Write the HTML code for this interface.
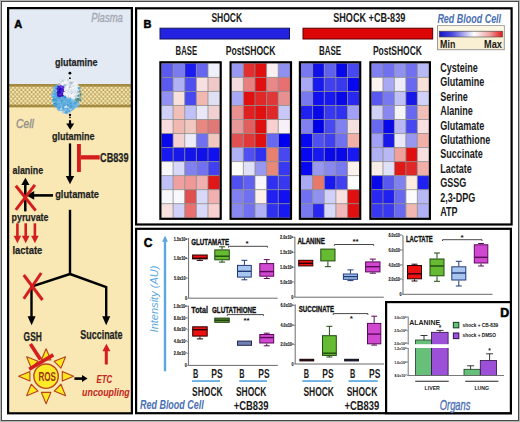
<!DOCTYPE html>
<html><head><meta charset="utf-8"><style>
html,body{margin:0;padding:0;background:#fff;}
svg{display:block;font-family:"Liberation Sans", sans-serif;}
</style></head><body>
<svg width="520" height="422" viewBox="0 0 520 422">
<rect x="0" y="0" width="520" height="422" fill="#ffffff"/>
<rect x="0.5" y="0.5" width="519" height="421" fill="none" stroke="#b4b4b4" stroke-width="1"/>
<rect x="1.5" y="1.5" width="517" height="419" fill="none" stroke="#4a4a4a" stroke-width="1"/>
<rect x="8" y="8" width="124" height="78" fill="#e3eaf4"/>
<rect x="8" y="84" width="124" height="330" fill="#f9e8b4"/>
<defs><pattern id="mem" x="8" y="86.6" width="4.1" height="4.4" patternUnits="userSpaceOnUse"><rect width="4.1" height="4.4" fill="#bba261"/><ellipse cx="1.025" cy="1.1" rx="1.35" ry="1.05" fill="#f8e9b0"/><ellipse cx="3.075" cy="3.3" rx="1.35" ry="1.05" fill="#f8e9b0"/><ellipse cx="-1.025" cy="3.3" rx="1.35" ry="1.05" fill="#f8e9b0"/><ellipse cx="5.125" cy="1.1" rx="1.35" ry="1.05" fill="#f8e9b0"/><ellipse cx="3.075" cy="-1.1" rx="1.35" ry="1.05" fill="#f8e9b0"/><ellipse cx="1.025" cy="5.5" rx="1.35" ry="1.05" fill="#f8e9b0"/></pattern></defs>
<rect x="8" y="84.0" width="124" height="23.3" fill="url(#mem)"/>
<rect x="8" y="84.0" width="124" height="2.6" fill="#9a8034" opacity="0.85"/>
<rect x="8" y="104.7" width="124" height="2.6" fill="#9a8034" opacity="0.85"/>
<rect x="8.1" y="8.1" width="123.8" height="405.2" fill="none" stroke="#000" stroke-width="2.2"/>
<text x="14.2" y="27.7" font-size="11" fill="#000" stroke="#000" stroke-width="0.5" font-weight="bold">A</text>
<text x="91.2" y="21.8" font-size="12.8" fill="#a4a9b1" stroke="#a4a9b1" stroke-width="0.35" font-style="italic" textLength="31.6" lengthAdjust="spacingAndGlyphs">Plasma</text>
<text x="16.1" y="127.7" font-size="12.8" fill="#96938a" stroke="#96938a" stroke-width="0.45" font-style="italic" textLength="17.7" lengthAdjust="spacingAndGlyphs">Cell</text>
<g>
<ellipse cx="66.5" cy="96" rx="13.2" ry="16.2" fill="#6ab4e2"/>
<path d="M60 82 Q70 76 78 84 Q82 92 79 100 Q74 96 68 99 Q63 94 64 88 Z" fill="#e2eaf2"/>
<circle cx="61.7" cy="83.9" r="0.93" fill="#b0bcc8"/><circle cx="69.0" cy="109.7" r="0.92" fill="#5aaee0"/><circle cx="64.8" cy="81.2" r="1.23" fill="#ffffff"/><circle cx="54.2" cy="98.0" r="1.28" fill="#5ab0e4"/><circle cx="69.0" cy="80.9" r="1.14" fill="#eef2f6"/><circle cx="76.8" cy="88.6" r="1.22" fill="#f0f4f8"/><circle cx="68.7" cy="97.8" r="1.01" fill="#b0bcc8"/><circle cx="69.0" cy="100.5" r="0.96" fill="#3a90c8"/><circle cx="72.7" cy="98.0" r="1.02" fill="#eef2f6"/><circle cx="71.8" cy="93.3" r="1.18" fill="#dde4ec"/><circle cx="78.6" cy="91.1" r="1.38" fill="#6aa0a0"/><circle cx="72.3" cy="87.1" r="1.08" fill="#eef2f6"/><circle cx="66.5" cy="90.5" r="1.07" fill="#c8d2dc"/><circle cx="64.3" cy="104.5" r="1.46" fill="#5ab0e4"/><circle cx="64.4" cy="111.5" r="1.36" fill="#7ab8e0"/><circle cx="68.7" cy="108.6" r="1.10" fill="#a8cce6"/><circle cx="62.4" cy="95.7" r="0.94" fill="#5a2ae0"/><circle cx="55.1" cy="88.0" r="1.30" fill="#4a9ccf"/><circle cx="54.2" cy="102.7" r="1.25" fill="#4a9ccf"/><circle cx="71.8" cy="94.0" r="1.13" fill="#b0bcc8"/><circle cx="65.6" cy="84.5" r="1.20" fill="#ffffff"/><circle cx="58.7" cy="88.6" r="1.14" fill="#4a18d0"/><circle cx="78.4" cy="95.7" r="1.17" fill="#6aa0a0"/><circle cx="68.0" cy="108.8" r="1.42" fill="#d8e6f0"/><circle cx="60.4" cy="92.9" r="1.31" fill="#2c0cb0"/><circle cx="63.3" cy="86.6" r="1.01" fill="#3a10c8"/><circle cx="59.1" cy="86.7" r="1.40" fill="#5a2ae0"/><circle cx="57.7" cy="88.4" r="1.15" fill="#4a18d0"/><circle cx="62.9" cy="98.1" r="1.31" fill="#5ab0e4"/><circle cx="67.1" cy="99.8" r="1.34" fill="#4a9ccf"/><circle cx="65.4" cy="108.4" r="1.14" fill="#4aa0d8"/><circle cx="63.8" cy="82.3" r="1.14" fill="#b0bcc8"/><circle cx="65.0" cy="82.5" r="0.93" fill="#eef2f6"/><circle cx="55.4" cy="91.2" r="0.94" fill="#4aa0d8"/><circle cx="58.4" cy="91.6" r="1.47" fill="#2c0cb0"/><circle cx="69.5" cy="94.9" r="1.41" fill="#ffffff"/><circle cx="80.6" cy="94.6" r="1.09" fill="#4a8078"/><circle cx="56.6" cy="104.3" r="1.06" fill="#4a9ccf"/><circle cx="76.0" cy="84.3" r="1.02" fill="#ffffff"/><circle cx="79.4" cy="91.1" r="1.35" fill="#5a9088"/><circle cx="60.9" cy="100.7" r="1.32" fill="#4aa0d8"/><circle cx="59.9" cy="91.3" r="1.11" fill="#4a18d0"/><circle cx="58.8" cy="97.2" r="1.10" fill="#62aadc"/><circle cx="58.8" cy="106.4" r="1.38" fill="#5aaee0"/><circle cx="75.7" cy="104.0" r="1.02" fill="#5ab0e4"/><circle cx="66.4" cy="103.7" r="1.37" fill="#4aa0d8"/><circle cx="65.9" cy="85.4" r="1.47" fill="#eef2f6"/><circle cx="65.2" cy="110.7" r="1.47" fill="#a8cce6"/><circle cx="62.8" cy="86.3" r="1.18" fill="#4a18d0"/><circle cx="62.1" cy="95.2" r="1.19" fill="#3a10c8"/><circle cx="71.0" cy="106.0" r="1.40" fill="#4aa0d8"/><circle cx="55.9" cy="92.0" r="1.35" fill="#4a9ccf"/><circle cx="66.0" cy="84.9" r="1.10" fill="#b0bcc8"/><circle cx="63.7" cy="92.4" r="1.33" fill="#3a10c8"/><circle cx="75.3" cy="83.8" r="1.49" fill="#eef2f6"/><circle cx="71.1" cy="90.7" r="1.23" fill="#eef2f6"/><circle cx="73.1" cy="82.3" r="1.46" fill="#b0bcc8"/><circle cx="64.8" cy="108.4" r="0.92" fill="#5aaee0"/><circle cx="58.5" cy="95.8" r="1.06" fill="#2c0cb0"/><circle cx="64.4" cy="83.3" r="1.11" fill="#b0bcc8"/><circle cx="65.5" cy="98.6" r="1.15" fill="#62aadc"/><circle cx="78.5" cy="95.9" r="1.21" fill="#6aa0a0"/><circle cx="53.0" cy="93.8" r="1.27" fill="#5ab0e4"/><circle cx="74.5" cy="83.9" r="1.18" fill="#f0f4f8"/><circle cx="73.0" cy="97.7" r="1.31" fill="#dde4ec"/><circle cx="67.5" cy="95.2" r="1.43" fill="#ffffff"/><circle cx="65.3" cy="79.7" r="1.17" fill="#ffffff"/><circle cx="69.8" cy="96.0" r="1.02" fill="#eef2f6"/><circle cx="60.3" cy="96.1" r="1.20" fill="#5a2ae0"/><circle cx="59.5" cy="96.6" r="1.45" fill="#3a90c8"/><circle cx="77.8" cy="85.7" r="0.98" fill="#c8d2dc"/><circle cx="55.9" cy="93.8" r="1.30" fill="#4aa0d8"/><circle cx="64.6" cy="86.0" r="1.37" fill="#dde4ec"/><circle cx="72.8" cy="101.2" r="1.05" fill="#5ab0e4"/><circle cx="56.4" cy="94.7" r="1.47" fill="#4a9ccf"/><circle cx="63.8" cy="95.4" r="1.00" fill="#4a18d0"/><circle cx="64.7" cy="96.3" r="1.15" fill="#3a90c8"/><circle cx="62.6" cy="81.9" r="0.91" fill="#dde4ec"/><circle cx="68.2" cy="93.8" r="1.13" fill="#ffffff"/><circle cx="67.1" cy="88.8" r="0.97" fill="#ffffff"/><circle cx="78.5" cy="86.6" r="0.95" fill="#ffffff"/><circle cx="60.2" cy="109.6" r="1.06" fill="#5aaee0"/><circle cx="56.2" cy="93.2" r="1.39" fill="#4a9ccf"/><circle cx="59.8" cy="83.9" r="1.24" fill="#eef2f6"/><circle cx="72.3" cy="81.8" r="1.38" fill="#ffffff"/><circle cx="55.0" cy="87.7" r="1.41" fill="#62aadc"/><circle cx="65.3" cy="90.3" r="1.15" fill="#eef2f6"/><circle cx="78.4" cy="99.9" r="1.22" fill="#5a9088"/><circle cx="59.2" cy="82.5" r="1.06" fill="#f0f4f8"/><circle cx="70.3" cy="96.9" r="1.07" fill="#f0f4f8"/><circle cx="66.7" cy="84.8" r="1.38" fill="#dde4ec"/><circle cx="53.0" cy="96.0" r="1.21" fill="#5ab0e4"/><circle cx="59.5" cy="94.0" r="1.29" fill="#5a2ae0"/><circle cx="67.9" cy="109.0" r="1.08" fill="#4aa0d8"/><circle cx="58.6" cy="86.6" r="1.40" fill="#4a18d0"/><circle cx="72.5" cy="100.4" r="1.49" fill="#7cc0ea"/><circle cx="52.9" cy="100.1" r="1.16" fill="#3a90c8"/><circle cx="54.1" cy="101.4" r="1.42" fill="#7cc0ea"/><circle cx="71.5" cy="88.4" r="1.32" fill="#f0f4f8"/><circle cx="62.8" cy="90.0" r="1.05" fill="#2c0cb0"/><circle cx="63.3" cy="94.9" r="1.05" fill="#4a18d0"/><circle cx="74.5" cy="81.9" r="0.99" fill="#ffffff"/><circle cx="69.1" cy="92.2" r="1.08" fill="#dde4ec"/><circle cx="59.1" cy="98.7" r="1.41" fill="#62aadc"/><circle cx="74.7" cy="99.1" r="1.33" fill="#88b8c8"/><circle cx="66.5" cy="88.5" r="1.29" fill="#eef2f6"/><circle cx="77.7" cy="100.1" r="1.45" fill="#6aa0a0"/><circle cx="73.8" cy="98.1" r="1.40" fill="#ffffff"/><circle cx="69.0" cy="109.2" r="0.95" fill="#5aaee0"/><circle cx="53.7" cy="100.5" r="1.13" fill="#4aa0d8"/><circle cx="65.3" cy="80.5" r="1.28" fill="#ffffff"/><circle cx="71.8" cy="95.4" r="1.17" fill="#ffffff"/><circle cx="67.4" cy="104.2" r="1.05" fill="#7cc0ea"/><circle cx="54.6" cy="87.8" r="1.35" fill="#4a9ccf"/><circle cx="59.0" cy="100.9" r="1.20" fill="#7cc0ea"/><circle cx="63.3" cy="95.1" r="1.36" fill="#2c0cb0"/><circle cx="70.0" cy="100.7" r="1.26" fill="#4aa0d8"/><circle cx="61.9" cy="101.0" r="1.08" fill="#4a9ccf"/><circle cx="68.6" cy="79.2" r="1.19" fill="#ffffff"/><circle cx="58.7" cy="95.4" r="1.18" fill="#2c0cb0"/><circle cx="65.7" cy="82.8" r="1.02" fill="#eef2f6"/><circle cx="53.0" cy="94.4" r="1.48" fill="#62aadc"/><circle cx="65.2" cy="87.9" r="1.45" fill="#f0f4f8"/><circle cx="55.1" cy="104.2" r="1.47" fill="#3a90c8"/><circle cx="56.3" cy="106.7" r="1.07" fill="#4aa0d8"/><circle cx="55.7" cy="91.2" r="1.44" fill="#7cc0ea"/><circle cx="66.3" cy="79.6" r="1.47" fill="#ffffff"/><circle cx="71.8" cy="92.6" r="0.98" fill="#b0bcc8"/><circle cx="62.2" cy="89.5" r="0.90" fill="#2c0cb0"/><circle cx="73.7" cy="107.3" r="1.46" fill="#7ab8e0"/><circle cx="73.4" cy="87.4" r="1.14" fill="#ffffff"/><circle cx="62.7" cy="93.4" r="1.41" fill="#2c0cb0"/><circle cx="60.4" cy="80.6" r="1.07" fill="#b0bcc8"/><circle cx="60.0" cy="96.2" r="1.36" fill="#4a18d0"/><circle cx="74.7" cy="93.3" r="1.39" fill="#ffffff"/><circle cx="70.4" cy="109.9" r="1.23" fill="#4aa0d8"/><circle cx="73.2" cy="94.1" r="1.29" fill="#f0f4f8"/><circle cx="60.6" cy="80.5" r="0.98" fill="#eef2f6"/><circle cx="65.9" cy="90.5" r="1.05" fill="#dde4ec"/><circle cx="73.4" cy="101.0" r="1.29" fill="#7cc0ea"/><circle cx="61.0" cy="97.7" r="0.97" fill="#7cc0ea"/><circle cx="70.7" cy="81.4" r="1.44" fill="#eef2f6"/><circle cx="66.6" cy="86.3" r="1.50" fill="#dde4ec"/><circle cx="65.2" cy="83.5" r="1.05" fill="#f0f4f8"/><circle cx="57.4" cy="97.7" r="1.04" fill="#3a90c8"/><circle cx="59.8" cy="98.2" r="1.35" fill="#4aa0d8"/><circle cx="64.2" cy="92.9" r="1.03" fill="#eef2f6"/><circle cx="60.1" cy="104.4" r="1.07" fill="#7cc0ea"/><circle cx="66.7" cy="100.2" r="0.96" fill="#5ab0e4"/><circle cx="77.9" cy="91.9" r="1.17" fill="#b0bcc8"/><circle cx="77.8" cy="94.9" r="0.90" fill="#4a8078"/><circle cx="63.6" cy="110.3" r="1.41" fill="#4aa0d8"/><circle cx="67.3" cy="102.0" r="1.32" fill="#4a9ccf"/><circle cx="54.9" cy="105.2" r="1.37" fill="#4aa0d8"/><circle cx="59.1" cy="110.1" r="1.48" fill="#a8cce6"/><circle cx="70.2" cy="96.8" r="1.32" fill="#c8d2dc"/><circle cx="67.3" cy="98.6" r="1.06" fill="#7cc0ea"/><circle cx="67.7" cy="112.7" r="1.48" fill="#a8cce6"/><circle cx="70.7" cy="108.8" r="1.22" fill="#d8e6f0"/><circle cx="68.0" cy="79.8" r="1.32" fill="#c8d2dc"/><circle cx="66.6" cy="101.7" r="0.95" fill="#7cc0ea"/><circle cx="58.9" cy="93.2" r="1.04" fill="#2c0cb0"/><circle cx="53.5" cy="90.3" r="1.12" fill="#7cc0ea"/><circle cx="60.8" cy="107.5" r="1.02" fill="#7ab8e0"/><circle cx="75.7" cy="86.6" r="1.06" fill="#f0f4f8"/><circle cx="70.1" cy="99.5" r="1.19" fill="#5ab0e4"/><circle cx="69.3" cy="110.1" r="1.03" fill="#7ab8e0"/><circle cx="63.6" cy="109.3" r="1.34" fill="#a8cce6"/><circle cx="61.8" cy="85.1" r="1.35" fill="#62aadc"/><circle cx="53.4" cy="101.4" r="1.40" fill="#7cc0ea"/><circle cx="80.4" cy="93.8" r="0.90" fill="#5a9088"/><circle cx="60.4" cy="90.7" r="1.24" fill="#3a10c8"/><circle cx="74.0" cy="91.7" r="1.39" fill="#dde4ec"/><circle cx="64.7" cy="80.5" r="1.02" fill="#c8d2dc"/><circle cx="67.8" cy="94.0" r="1.12" fill="#dde4ec"/><circle cx="64.1" cy="106.4" r="0.92" fill="#d8e6f0"/><circle cx="78.5" cy="87.5" r="0.94" fill="#b0bcc8"/><circle cx="69.6" cy="91.1" r="1.47" fill="#dde4ec"/><circle cx="70.0" cy="87.7" r="1.31" fill="#b0bcc8"/><circle cx="78.7" cy="88.9" r="1.35" fill="#b0bcc8"/><circle cx="78.4" cy="100.4" r="0.91" fill="#5a9088"/><circle cx="59.1" cy="95.0" r="1.47" fill="#5a2ae0"/><circle cx="63.4" cy="87.3" r="1.39" fill="#5a2ae0"/><circle cx="56.3" cy="95.7" r="1.38" fill="#4aa0d8"/><circle cx="73.4" cy="106.8" r="1.26" fill="#5aaee0"/><circle cx="61.8" cy="89.7" r="1.37" fill="#2c0cb0"/><circle cx="69.4" cy="96.2" r="1.35" fill="#c8d2dc"/><circle cx="53.5" cy="97.6" r="1.00" fill="#3a90c8"/><circle cx="64.6" cy="82.4" r="1.06" fill="#ffffff"/><circle cx="66.6" cy="102.9" r="1.00" fill="#7cc0ea"/><circle cx="56.3" cy="94.5" r="1.04" fill="#4a9ccf"/><circle cx="67.7" cy="105.1" r="1.37" fill="#4aa0d8"/><circle cx="60.8" cy="88.3" r="1.12" fill="#2c0cb0"/><circle cx="73.4" cy="85.6" r="1.01" fill="#f0f4f8"/><circle cx="59.2" cy="88.4" r="1.10" fill="#4a18d0"/><circle cx="66.9" cy="86.7" r="1.29" fill="#ffffff"/><circle cx="65.9" cy="106.6" r="1.45" fill="#d8e6f0"/><circle cx="80.0" cy="98.6" r="1.12" fill="#5a9088"/><circle cx="77.0" cy="94.1" r="1.36" fill="#dde4ec"/><circle cx="70.5" cy="102.9" r="1.03" fill="#3a90c8"/><circle cx="62.9" cy="83.6" r="1.50" fill="#f0f4f8"/><circle cx="75.7" cy="92.7" r="1.01" fill="#dde4ec"/><circle cx="61.3" cy="85.7" r="1.23" fill="#5a2ae0"/><circle cx="63.7" cy="97.5" r="1.22" fill="#4a9ccf"/><circle cx="71.0" cy="92.3" r="1.15" fill="#dde4ec"/><circle cx="60.5" cy="89.3" r="1.09" fill="#3a10c8"/><circle cx="68.5" cy="90.9" r="0.91" fill="#c8d2dc"/><circle cx="74.2" cy="106.1" r="1.13" fill="#5aaee0"/><circle cx="64.0" cy="110.8" r="1.44" fill="#d8e6f0"/><circle cx="64.5" cy="106.7" r="1.25" fill="#d8e6f0"/><circle cx="62.8" cy="105.1" r="0.91" fill="#5ab0e4"/><circle cx="68.1" cy="100.6" r="0.95" fill="#7cc0ea"/><circle cx="70.1" cy="91.4" r="1.00" fill="#eef2f6"/><circle cx="62.3" cy="84.3" r="1.46" fill="#f0f4f8"/><circle cx="55.6" cy="95.5" r="1.08" fill="#5ab0e4"/><circle cx="78.3" cy="89.5" r="1.46" fill="#eef2f6"/><circle cx="63.5" cy="109.5" r="1.31" fill="#4aa0d8"/><circle cx="77.7" cy="100.6" r="1.27" fill="#6aa0a0"/><circle cx="69.9" cy="85.5" r="1.01" fill="#c8d2dc"/><circle cx="58.7" cy="92.4" r="1.13" fill="#4a18d0"/><circle cx="56.0" cy="87.2" r="1.39" fill="#4a9ccf"/><circle cx="58.0" cy="108.9" r="1.30" fill="#7ab8e0"/><circle cx="61.7" cy="92.1" r="1.23" fill="#5a2ae0"/><circle cx="70.2" cy="89.2" r="1.08" fill="#c8d2dc"/><circle cx="59.6" cy="92.0" r="1.17" fill="#2c0cb0"/><circle cx="64.9" cy="79.6" r="1.49" fill="#eef2f6"/><circle cx="65.7" cy="94.0" r="1.37" fill="#eef2f6"/><circle cx="65.5" cy="84.9" r="1.14" fill="#c8d2dc"/><circle cx="54.4" cy="91.0" r="0.96" fill="#3a90c8"/><circle cx="65.0" cy="96.1" r="0.92" fill="#4aa0d8"/><circle cx="61.4" cy="103.3" r="0.93" fill="#4aa0d8"/><circle cx="66.8" cy="91.6" r="0.92" fill="#f0f4f8"/><circle cx="54.4" cy="99.7" r="1.39" fill="#4a9ccf"/><circle cx="66.4" cy="111.3" r="1.31" fill="#5aaee0"/><circle cx="72.9" cy="86.3" r="1.27" fill="#dde4ec"/><circle cx="59.6" cy="89.8" r="1.44" fill="#2c0cb0"/><circle cx="65.4" cy="87.4" r="1.02" fill="#c8d2dc"/><circle cx="59.9" cy="96.0" r="1.12" fill="#2c0cb0"/><circle cx="58.1" cy="92.5" r="1.31" fill="#2c0cb0"/><circle cx="74.7" cy="82.7" r="0.93" fill="#eef2f6"/><circle cx="65.3" cy="96.5" r="1.43" fill="#4a9ccf"/><circle cx="70.3" cy="92.2" r="1.06" fill="#dde4ec"/><circle cx="80.5" cy="98.4" r="1.10" fill="#88b8c8"/><circle cx="69.9" cy="111.4" r="1.39" fill="#a8cce6"/><circle cx="59.7" cy="100.5" r="1.46" fill="#62aadc"/><circle cx="77.8" cy="103.7" r="0.92" fill="#4a9ccf"/><circle cx="56.7" cy="99.7" r="1.15" fill="#7cc0ea"/><circle cx="62.8" cy="80.4" r="1.04" fill="#c8d2dc"/><circle cx="55.5" cy="90.9" r="1.15" fill="#5ab0e4"/><circle cx="61.0" cy="83.3" r="1.27" fill="#dde4ec"/><circle cx="65.9" cy="83.4" r="1.32" fill="#f0f4f8"/><circle cx="65.3" cy="81.0" r="1.42" fill="#f0f4f8"/><circle cx="74.6" cy="92.5" r="1.48" fill="#dde4ec"/><circle cx="77.8" cy="99.0" r="1.26" fill="#4a8078"/><circle cx="67.1" cy="95.6" r="1.44" fill="#f0f4f8"/><circle cx="53.7" cy="96.9" r="1.01" fill="#7cc0ea"/><circle cx="55.5" cy="99.6" r="1.46" fill="#4a9ccf"/><circle cx="69.7" cy="96.0" r="1.15" fill="#b0bcc8"/><circle cx="69.9" cy="96.1" r="1.08" fill="#ffffff"/><circle cx="74.7" cy="103.1" r="1.13" fill="#4aa0d8"/><circle cx="64.9" cy="109.8" r="1.35" fill="#7ab8e0"/><circle cx="65.3" cy="86.5" r="1.06" fill="#ffffff"/><circle cx="70.7" cy="83.0" r="1.46" fill="#b0bcc8"/><circle cx="54.0" cy="100.4" r="1.16" fill="#4a9ccf"/><circle cx="74.8" cy="96.6" r="1.08" fill="#dde4ec"/><circle cx="54.9" cy="96.1" r="1.06" fill="#5ab0e4"/><circle cx="59.2" cy="104.1" r="1.35" fill="#5ab0e4"/><circle cx="61.8" cy="108.7" r="1.26" fill="#a8cce6"/><circle cx="63.2" cy="107.8" r="1.18" fill="#4aa0d8"/><circle cx="76.3" cy="102.5" r="1.16" fill="#4aa0d8"/><circle cx="73.0" cy="98.2" r="1.37" fill="#dde4ec"/><circle cx="63.6" cy="98.7" r="1.45" fill="#62aadc"/><circle cx="62.3" cy="83.6" r="0.92" fill="#ffffff"/><circle cx="56.4" cy="100.7" r="1.32" fill="#4aa0d8"/><circle cx="73.4" cy="81.0" r="1.36" fill="#eef2f6"/><circle cx="67.6" cy="101.4" r="1.47" fill="#4a9ccf"/><circle cx="76.5" cy="106.4" r="1.40" fill="#7ab8e0"/><circle cx="70.4" cy="88.6" r="0.98" fill="#ffffff"/><circle cx="74.9" cy="100.8" r="1.09" fill="#88b8c8"/><circle cx="64.5" cy="79.5" r="1.46" fill="#dde4ec"/><circle cx="78.3" cy="105.0" r="1.20" fill="#62aadc"/><circle cx="76.6" cy="99.8" r="1.37" fill="#5a9088"/><circle cx="53.4" cy="96.4" r="1.11" fill="#4aa0d8"/><circle cx="72.4" cy="97.1" r="1.33" fill="#f0f4f8"/><circle cx="75.9" cy="98.3" r="1.00" fill="#88b8c8"/><circle cx="52.6" cy="95.5" r="1.32" fill="#7cc0ea"/><circle cx="69.3" cy="111.3" r="1.06" fill="#4aa0d8"/><circle cx="79.2" cy="88.4" r="1.46" fill="#5ab0e4"/><circle cx="59.1" cy="84.4" r="1.36" fill="#b0bcc8"/><circle cx="66.4" cy="112.5" r="1.37" fill="#4aa0d8"/><circle cx="70.3" cy="90.9" r="1.46" fill="#c8d2dc"/><circle cx="77.7" cy="104.1" r="1.43" fill="#7cc0ea"/><circle cx="59.9" cy="109.4" r="1.00" fill="#4aa0d8"/><circle cx="80.3" cy="100.2" r="0.98" fill="#4a8078"/><circle cx="69.3" cy="102.2" r="1.29" fill="#62aadc"/><circle cx="62.4" cy="89.9" r="1.42" fill="#4a18d0"/><circle cx="65.2" cy="97.6" r="1.00" fill="#3a90c8"/><circle cx="64.9" cy="105.1" r="1.04" fill="#62aadc"/><circle cx="62.0" cy="100.7" r="1.04" fill="#4a9ccf"/><circle cx="57.9" cy="89.1" r="1.33" fill="#4a18d0"/><circle cx="69.6" cy="90.7" r="1.10" fill="#f0f4f8"/><circle cx="73.1" cy="82.3" r="0.96" fill="#b0bcc8"/><circle cx="63.4" cy="112.3" r="1.34" fill="#a8cce6"/><circle cx="64.8" cy="85.5" r="1.45" fill="#b0bcc8"/><circle cx="60.4" cy="108.9" r="0.92" fill="#d8e6f0"/><circle cx="63.8" cy="105.7" r="1.03" fill="#4a9ccf"/><circle cx="59.4" cy="107.8" r="1.25" fill="#4aa0d8"/><circle cx="70.8" cy="107.6" r="1.41" fill="#4aa0d8"/><circle cx="71.7" cy="100.6" r="1.16" fill="#7cc0ea"/><circle cx="59.9" cy="102.6" r="1.05" fill="#7cc0ea"/><circle cx="63.8" cy="103.0" r="1.05" fill="#5ab0e4"/><circle cx="64.5" cy="94.3" r="1.42" fill="#eef2f6"/><circle cx="67.2" cy="101.3" r="1.44" fill="#5ab0e4"/><circle cx="55.5" cy="87.3" r="1.00" fill="#5ab0e4"/><circle cx="67.2" cy="82.2" r="1.17" fill="#eef2f6"/><circle cx="58.3" cy="95.0" r="1.28" fill="#3a10c8"/><circle cx="76.0" cy="96.5" r="1.35" fill="#c8d2dc"/><circle cx="65.4" cy="112.5" r="1.14" fill="#5aaee0"/><circle cx="74.1" cy="83.0" r="1.11" fill="#eef2f6"/><circle cx="54.1" cy="88.1" r="0.94" fill="#7cc0ea"/><circle cx="70.3" cy="101.7" r="1.06" fill="#62aadc"/><circle cx="58.9" cy="104.0" r="1.48" fill="#62aadc"/>
</g>
<circle cx="69.9" cy="73.2" r="1.4" fill="#000"/>
<circle cx="69.9" cy="78.2" r="0.9" fill="#000"/>
<circle cx="70" cy="114.9" r="1.2" fill="#000"/>
<circle cx="70" cy="117.4" r="0.8" fill="#000"/>
<line x1="70" y1="120.2" x2="70" y2="124" stroke="#000" stroke-width="2.2"/>
<path d="M66.2 123.4 L74.2 123.4 L70.2 129.8 Z" fill="#000"/>
<text x="54.9" y="65.6" font-size="11.6" fill="#1f1f1f" stroke="#1f1f1f" stroke-width="0.25" font-weight="bold" textLength="42.7" lengthAdjust="spacingAndGlyphs">glutamine</text>
<text x="52" y="140.3" font-size="11.6" fill="#1f1f1f" stroke="#1f1f1f" stroke-width="0.25" font-weight="bold" textLength="42.6" lengthAdjust="spacingAndGlyphs">glutamine</text>
<line x1="70" y1="143.4" x2="70" y2="177" stroke="#000" stroke-width="2.3"/>
<path d="M65.8 176 L74.2 176 L70 184.2 Z" fill="#000"/>
<rect x="77" y="144" width="3.9" height="28" fill="#d41e1e"/>
<rect x="80.9" y="155.2" width="18.8" height="4.3" fill="#d41e1e"/>
<text x="100.1" y="161.6" font-size="12.5" fill="#1f1f1f" stroke="#1f1f1f" stroke-width="0.25" font-weight="bold" textLength="28.4" lengthAdjust="spacingAndGlyphs">CB839</text>
<text x="12.5" y="173.6" font-size="11.2" fill="#1f1f1f" stroke="#1f1f1f" stroke-width="0.25" font-weight="bold" textLength="30.6" lengthAdjust="spacingAndGlyphs">alanine</text>
<line x1="25.3" y1="211.4" x2="25.3" y2="184" stroke="#000" stroke-width="2.5"/>
<path d="M21.3 185 L29.5 185 L25.4 177.8 Z" fill="#000"/>
<line x1="53" y1="195.4" x2="33" y2="195.4" stroke="#000" stroke-width="2.6"/>
<path d="M34.2 191.1 L34.2 199.8 L26.4 195.4 Z" fill="#000"/>
<line x1="15.8" y1="185.7" x2="35.7" y2="210.6" stroke="#d41e1e" stroke-width="3"/>
<line x1="34.9" y1="184.9" x2="15.8" y2="209.8" stroke="#d41e1e" stroke-width="3"/>
<text x="55.2" y="197.6" font-size="11.8" fill="#1f1f1f" stroke="#1f1f1f" stroke-width="0.25" font-weight="bold" textLength="43.8" lengthAdjust="spacingAndGlyphs">glutamate</text>
<text x="11.6" y="221.4" font-size="11.6" fill="#1f1f1f" stroke="#1f1f1f" stroke-width="0.25" font-weight="bold" textLength="36.8" lengthAdjust="spacingAndGlyphs">pyruvate</text>
<line x1="17.4" y1="223.3" x2="17.4" y2="237" stroke="#d41e1e" stroke-width="2.6"/>
<path d="M13.599999999999998 235.7 L21.2 235.7 L17.4 243.2 Z" fill="#d41e1e"/>
<line x1="25.7" y1="223.3" x2="25.7" y2="237" stroke="#d41e1e" stroke-width="2.6"/>
<path d="M21.9 235.7 L29.5 235.7 L25.7 243.2 Z" fill="#d41e1e"/>
<line x1="34.9" y1="223.3" x2="34.9" y2="237" stroke="#d41e1e" stroke-width="2.6"/>
<path d="M31.099999999999998 235.7 L38.699999999999996 235.7 L34.9 243.2 Z" fill="#d41e1e"/>
<text x="12.5" y="254.4" font-size="11.2" fill="#1f1f1f" stroke="#1f1f1f" stroke-width="0.25" font-weight="bold" textLength="29.8" lengthAdjust="spacingAndGlyphs">lactate</text>
<line x1="70" y1="209.8" x2="70" y2="274.5" stroke="#000" stroke-width="2.4"/>
<path d="M70 274 L31.5 286.5 L31.5 317" fill="none" stroke="#000" stroke-width="2.4" stroke-linejoin="miter"/>
<path d="M70 274 L106.2 287 L106.2 317" fill="none" stroke="#000" stroke-width="2.4" stroke-linejoin="miter"/>
<path d="M27.6 316.3 L35.6 316.3 L31.6 325.2 Z" fill="#000"/>
<path d="M102.2 316.3 L110.2 316.3 L106.2 325.2 Z" fill="#000"/>
<line x1="23.75" y1="275" x2="42.5" y2="300" stroke="#d41e1e" stroke-width="3"/>
<line x1="41.25" y1="273" x2="23.75" y2="298.75" stroke="#d41e1e" stroke-width="3"/>
<text x="23.6" y="340.8" font-size="12.6" fill="#1f1f1f" stroke="#1f1f1f" stroke-width="0.25" font-weight="bold" textLength="18.2" lengthAdjust="spacingAndGlyphs">GSH</text>
<text x="80.2" y="338.7" font-size="12.6" fill="#1f1f1f" stroke="#1f1f1f" stroke-width="0.25" font-weight="bold" textLength="42.4" lengthAdjust="spacingAndGlyphs">Succinate</text>
<line x1="106.3" y1="350" x2="106.3" y2="364.5" stroke="#d41e1e" stroke-width="3"/>
<path d="M102.4 351.3 L110.4 351.3 L106.4 343.8 Z" fill="#d41e1e"/>
<path d="M73.60 376.20 L62.30 381.00 L62.30 371.40 Z M65.55 395.65 L54.16 391.05 L60.95 384.26 Z M46.10 403.70 L41.30 392.40 L50.90 392.40 Z M26.65 395.65 L31.25 384.26 L38.04 391.05 Z M18.60 376.20 L29.90 371.40 L29.90 381.00 Z M26.65 356.75 L38.04 361.35 L31.25 368.14 Z M46.10 348.70 L50.90 360.00 L41.30 360.00 Z M65.55 356.75 L60.95 368.14 L54.16 361.35 Z" fill="#ffe820" stroke="#b8401c" stroke-width="1.1" stroke-linejoin="round"/>
<circle cx="46.1" cy="376.2" r="12.2" fill="#ffea2a" stroke="#b8461c" stroke-width="1.4"/>
<text x="38.5" y="381.1" font-size="13.6" fill="#9a3412" font-weight="bold" textLength="17.5" lengthAdjust="spacingAndGlyphs">ROS</text>
<line x1="30.4" y1="344" x2="40.5" y2="359.5" stroke="#d41e1e" stroke-width="3.6"/>
<line x1="29.2" y1="369.3" x2="53.3" y2="354.9" stroke="#d41e1e" stroke-width="3.6"/>
<line x1="74.4" y1="378.6" x2="83" y2="378.6" stroke="#000" stroke-width="2.6"/>
<path d="M82 375.1 L82 382.1 L87.6 378.6 Z" fill="#000"/>
<text x="96.5" y="383" font-size="11.8" fill="#c4241a" font-weight="bold" font-style="italic" textLength="15.7" lengthAdjust="spacingAndGlyphs">ETC</text>
<text x="82.1" y="396.4" font-size="11.8" fill="#c4241a" font-weight="bold" font-style="italic" textLength="47.6" lengthAdjust="spacingAndGlyphs">uncoupling</text>
<rect x="136.1" y="8.3" width="375.5" height="216.2" fill="none" stroke="#000" stroke-width="2.2"/>
<text x="143.6" y="27.7" font-size="11" fill="#000" stroke="#000" stroke-width="0.5" font-weight="bold">B</text>
<text x="211.4" y="22.4" font-size="13.3" fill="#1a1a1a" font-weight="bold" textLength="30.8" lengthAdjust="spacingAndGlyphs">SHOCK</text>
<text x="333.2" y="22.4" font-size="13.3" fill="#1a1a1a" font-weight="bold" textLength="72.1" lengthAdjust="spacingAndGlyphs">SHOCK +CB-839</text>
<rect x="160" y="28.2" width="129.5" height="10.8" fill="#2222e0" stroke="#14145a" stroke-width="1"/>
<rect x="303" y="28.2" width="129.7" height="10.8" fill="#dd0606" stroke="#500" stroke-width="1"/>
<text x="175.6" y="55.3" font-size="12.6" fill="#1a1a1a" font-weight="bold" textLength="21.5" lengthAdjust="spacingAndGlyphs">BASE</text>
<text x="225.7" y="55.3" font-size="12.6" fill="#1a1a1a" font-weight="bold" textLength="49.9" lengthAdjust="spacingAndGlyphs">PostSHOCK</text>
<text x="319.0" y="55.3" font-size="12.6" fill="#1a1a1a" font-weight="bold" textLength="22.2" lengthAdjust="spacingAndGlyphs">BASE</text>
<text x="372.9" y="55.3" font-size="12.6" fill="#1a1a1a" font-weight="bold" textLength="49.1" lengthAdjust="spacingAndGlyphs">PostSHOCK</text>
<text x="437.4" y="23" font-size="13.2" fill="#4a6fb2" font-weight="bold" font-style="italic" textLength="63.7" lengthAdjust="spacingAndGlyphs">Red Blood Cell</text>
<rect x="437.5" y="25.7" width="66.8" height="24" fill="#f9efd2" stroke="#999" stroke-width="1"/>
<defs><linearGradient id="lg" x1="0" x2="1" y1="0" y2="0"><stop offset="0" stop-color="#1414c8"/><stop offset="0.2" stop-color="#4848de"/><stop offset="0.55" stop-color="#ffffff"/><stop offset="0.8" stop-color="#eea0a0"/><stop offset="1" stop-color="#e41616"/></linearGradient></defs>
<rect x="438" y="26.2" width="65.8" height="4.6" fill="#fdf7e6"/>
<rect x="439.3" y="31.2" width="63.2" height="5.8" fill="url(#lg)" stroke="#444" stroke-width="0.6"/>
<text x="440.1" y="48" font-size="11.8" fill="#1a1a1a" font-weight="bold" textLength="15.2" lengthAdjust="spacingAndGlyphs">Min</text>
<text x="484" y="48" font-size="11.8" fill="#1a1a1a" font-weight="bold" textLength="17.9" lengthAdjust="spacingAndGlyphs">Max</text>
<rect x="161.5" y="63.4" width="11.67" height="14.08" fill="#5a5af0"/>
<rect x="173.12" y="63.4" width="11.67" height="14.08" fill="#7b7bf0"/>
<rect x="184.74" y="63.4" width="11.67" height="14.08" fill="#1c1cf0"/>
<rect x="196.36" y="63.4" width="11.67" height="14.08" fill="#6565f0"/>
<rect x="207.98" y="63.4" width="11.67" height="14.08" fill="#f0f0fa"/>
<rect x="161.5" y="77.43" width="11.67" height="14.08" fill="#5a5af0"/>
<rect x="173.12" y="77.43" width="11.67" height="14.08" fill="#b0b0f5"/>
<rect x="184.74" y="77.43" width="11.67" height="14.08" fill="#5050f0"/>
<rect x="196.36" y="77.43" width="11.67" height="14.08" fill="#f8e0e0"/>
<rect x="207.98" y="77.43" width="11.67" height="14.08" fill="#f0c8c8"/>
<rect x="161.5" y="91.45" width="11.67" height="14.08" fill="#9090f5"/>
<rect x="173.12" y="91.45" width="11.67" height="14.08" fill="#f8e0dc"/>
<rect x="184.74" y="91.45" width="11.67" height="14.08" fill="#4848f0"/>
<rect x="196.36" y="91.45" width="11.67" height="14.08" fill="#f0b8b0"/>
<rect x="207.98" y="91.45" width="11.67" height="14.08" fill="#e0e0f5"/>
<rect x="161.5" y="105.48" width="11.67" height="14.08" fill="#d0d0f8"/>
<rect x="173.12" y="105.48" width="11.67" height="14.08" fill="#f0c0b8"/>
<rect x="184.74" y="105.48" width="11.67" height="14.08" fill="#c0c0f8"/>
<rect x="196.36" y="105.48" width="11.67" height="14.08" fill="#e8e8f8"/>
<rect x="207.98" y="105.48" width="11.67" height="14.08" fill="#f0d0d0"/>
<rect x="161.5" y="119.51" width="11.67" height="14.08" fill="#f8dcdc"/>
<rect x="173.12" y="119.51" width="11.67" height="14.08" fill="#f0b8b0"/>
<rect x="184.74" y="119.51" width="11.67" height="14.08" fill="#f0c8c0"/>
<rect x="196.36" y="119.51" width="11.67" height="14.08" fill="#e88880"/>
<rect x="207.98" y="119.51" width="11.67" height="14.08" fill="#e07878"/>
<rect x="161.5" y="133.54" width="11.67" height="14.08" fill="#0808e8"/>
<rect x="173.12" y="133.54" width="11.67" height="14.08" fill="#f5d0d0"/>
<rect x="184.74" y="133.54" width="11.67" height="14.08" fill="#ececf8"/>
<rect x="196.36" y="133.54" width="11.67" height="14.08" fill="#7070f0"/>
<rect x="207.98" y="133.54" width="11.67" height="14.08" fill="#f0c8c0"/>
<rect x="161.5" y="147.56" width="11.67" height="14.08" fill="#1818f0"/>
<rect x="173.12" y="147.56" width="11.67" height="14.08" fill="#1818e8"/>
<rect x="184.74" y="147.56" width="11.67" height="14.08" fill="#1414e8"/>
<rect x="196.36" y="147.56" width="11.67" height="14.08" fill="#1010e8"/>
<rect x="207.98" y="147.56" width="11.67" height="14.08" fill="#1010f0"/>
<rect x="161.5" y="161.59" width="11.67" height="14.08" fill="#f8f8fc"/>
<rect x="173.12" y="161.59" width="11.67" height="14.08" fill="#d8d8f8"/>
<rect x="184.74" y="161.59" width="11.67" height="14.08" fill="#8080f0"/>
<rect x="196.36" y="161.59" width="11.67" height="14.08" fill="#7070f0"/>
<rect x="207.98" y="161.59" width="11.67" height="14.08" fill="#4040f0"/>
<rect x="161.5" y="175.62" width="11.67" height="14.08" fill="#c0c0f8"/>
<rect x="173.12" y="175.62" width="11.67" height="14.08" fill="#f0a0a0"/>
<rect x="184.74" y="175.62" width="11.67" height="14.08" fill="#f09898"/>
<rect x="196.36" y="175.62" width="11.67" height="14.08" fill="#f0b0b0"/>
<rect x="207.98" y="175.62" width="11.67" height="14.08" fill="#e01818"/>
<rect x="161.5" y="189.65" width="11.67" height="14.08" fill="#f8f8fc"/>
<rect x="173.12" y="189.65" width="11.67" height="14.08" fill="#f8f8fc"/>
<rect x="184.74" y="189.65" width="11.67" height="14.08" fill="#e05050"/>
<rect x="196.36" y="189.65" width="11.67" height="14.08" fill="#d8d8f8"/>
<rect x="207.98" y="189.65" width="11.67" height="14.08" fill="#f0b0b0"/>
<rect x="161.5" y="203.67" width="11.67" height="14.08" fill="#f8e0e0"/>
<rect x="173.12" y="203.67" width="11.67" height="14.08" fill="#d0d0f8"/>
<rect x="184.74" y="203.67" width="11.67" height="14.08" fill="#e87070"/>
<rect x="196.36" y="203.67" width="11.67" height="14.08" fill="#d8d8f8"/>
<rect x="207.98" y="203.67" width="11.67" height="14.08" fill="#f8d0d0"/>
<line x1="173.12" y1="63.400000000000006" x2="173.12" y2="217.70000000000002" stroke="#8a8a8a" stroke-width="0.8"/>
<line x1="184.74" y1="63.400000000000006" x2="184.74" y2="217.70000000000002" stroke="#8a8a8a" stroke-width="0.8"/>
<line x1="196.36" y1="63.400000000000006" x2="196.36" y2="217.70000000000002" stroke="#8a8a8a" stroke-width="0.8"/>
<line x1="207.98" y1="63.400000000000006" x2="207.98" y2="217.70000000000002" stroke="#8a8a8a" stroke-width="0.8"/>
<line x1="161.5" y1="77.43" x2="219.60000000000002" y2="77.43" stroke="#8a8a8a" stroke-width="0.8"/>
<line x1="161.5" y1="91.45" x2="219.60000000000002" y2="91.45" stroke="#8a8a8a" stroke-width="0.8"/>
<line x1="161.5" y1="105.48" x2="219.60000000000002" y2="105.48" stroke="#8a8a8a" stroke-width="0.8"/>
<line x1="161.5" y1="119.51" x2="219.60000000000002" y2="119.51" stroke="#8a8a8a" stroke-width="0.8"/>
<line x1="161.5" y1="133.54" x2="219.60000000000002" y2="133.54" stroke="#8a8a8a" stroke-width="0.8"/>
<line x1="161.5" y1="147.56" x2="219.60000000000002" y2="147.56" stroke="#8a8a8a" stroke-width="0.8"/>
<line x1="161.5" y1="161.59" x2="219.60000000000002" y2="161.59" stroke="#8a8a8a" stroke-width="0.8"/>
<line x1="161.5" y1="175.62" x2="219.60000000000002" y2="175.62" stroke="#8a8a8a" stroke-width="0.8"/>
<line x1="161.5" y1="189.65" x2="219.60000000000002" y2="189.65" stroke="#8a8a8a" stroke-width="0.8"/>
<line x1="161.5" y1="203.67" x2="219.60000000000002" y2="203.67" stroke="#8a8a8a" stroke-width="0.8"/>
<rect x="160.4" y="62.300000000000004" width="60.3" height="156.5" fill="none" stroke="#000" stroke-width="2.2"/>
<rect x="231.7" y="63.4" width="11.69" height="14.08" fill="#9898f0"/>
<rect x="243.34" y="63.4" width="11.69" height="14.08" fill="#e03030"/>
<rect x="254.98" y="63.4" width="11.69" height="14.08" fill="#e01010"/>
<rect x="266.62" y="63.4" width="11.69" height="14.08" fill="#f8f0f0"/>
<rect x="278.26" y="63.4" width="11.69" height="14.08" fill="#9090f0"/>
<rect x="231.7" y="77.43" width="11.69" height="14.08" fill="#f5dcdc"/>
<rect x="243.34" y="77.43" width="11.69" height="14.08" fill="#e88080"/>
<rect x="254.98" y="77.43" width="11.69" height="14.08" fill="#e01010"/>
<rect x="266.62" y="77.43" width="11.69" height="14.08" fill="#e88888"/>
<rect x="278.26" y="77.43" width="11.69" height="14.08" fill="#e87070"/>
<rect x="231.7" y="91.45" width="11.69" height="14.08" fill="#a8a8f5"/>
<rect x="243.34" y="91.45" width="11.69" height="14.08" fill="#e01010"/>
<rect x="254.98" y="91.45" width="11.69" height="14.08" fill="#e02828"/>
<rect x="266.62" y="91.45" width="11.69" height="14.08" fill="#e03838"/>
<rect x="278.26" y="91.45" width="11.69" height="14.08" fill="#e89090"/>
<rect x="231.7" y="105.48" width="11.69" height="14.08" fill="#e89090"/>
<rect x="243.34" y="105.48" width="11.69" height="14.08" fill="#e02020"/>
<rect x="254.98" y="105.48" width="11.69" height="14.08" fill="#e01010"/>
<rect x="266.62" y="105.48" width="11.69" height="14.08" fill="#e02828"/>
<rect x="278.26" y="105.48" width="11.69" height="14.08" fill="#c8c8f8"/>
<rect x="231.7" y="119.51" width="11.69" height="14.08" fill="#e89898"/>
<rect x="243.34" y="119.51" width="11.69" height="14.08" fill="#e06060"/>
<rect x="254.98" y="119.51" width="11.69" height="14.08" fill="#e01010"/>
<rect x="266.62" y="119.51" width="11.69" height="14.08" fill="#f8d0d0"/>
<rect x="278.26" y="119.51" width="11.69" height="14.08" fill="#f8f0f8"/>
<rect x="231.7" y="133.54" width="11.69" height="14.08" fill="#e05050"/>
<rect x="243.34" y="133.54" width="11.69" height="14.08" fill="#e03838"/>
<rect x="254.98" y="133.54" width="11.69" height="14.08" fill="#e01010"/>
<rect x="266.62" y="133.54" width="11.69" height="14.08" fill="#6868f0"/>
<rect x="278.26" y="133.54" width="11.69" height="14.08" fill="#0000f0"/>
<rect x="231.7" y="147.56" width="11.69" height="14.08" fill="#b0b0f5"/>
<rect x="243.34" y="147.56" width="11.69" height="14.08" fill="#5050f0"/>
<rect x="254.98" y="147.56" width="11.69" height="14.08" fill="#3030f0"/>
<rect x="266.62" y="147.56" width="11.69" height="14.08" fill="#e88070"/>
<rect x="278.26" y="147.56" width="11.69" height="14.08" fill="#4848f0"/>
<rect x="231.7" y="161.59" width="11.69" height="14.08" fill="#fcfcf8"/>
<rect x="243.34" y="161.59" width="11.69" height="14.08" fill="#e0e0f8"/>
<rect x="254.98" y="161.59" width="11.69" height="14.08" fill="#9898f0"/>
<rect x="266.62" y="161.59" width="11.69" height="14.08" fill="#e88878"/>
<rect x="278.26" y="161.59" width="11.69" height="14.08" fill="#3838f0"/>
<rect x="231.7" y="175.62" width="11.69" height="14.08" fill="#5050f0"/>
<rect x="243.34" y="175.62" width="11.69" height="14.08" fill="#6060f0"/>
<rect x="254.98" y="175.62" width="11.69" height="14.08" fill="#f8f8fc"/>
<rect x="266.62" y="175.62" width="11.69" height="14.08" fill="#3030f0"/>
<rect x="278.26" y="175.62" width="11.69" height="14.08" fill="#3838f0"/>
<rect x="231.7" y="189.65" width="11.69" height="14.08" fill="#8080f0"/>
<rect x="243.34" y="189.65" width="11.69" height="14.08" fill="#7070f0"/>
<rect x="254.98" y="189.65" width="11.69" height="14.08" fill="#fcf0e8"/>
<rect x="266.62" y="189.65" width="11.69" height="14.08" fill="#2020f0"/>
<rect x="278.26" y="189.65" width="11.69" height="14.08" fill="#1010f0"/>
<rect x="231.7" y="203.67" width="11.69" height="14.08" fill="#8888f0"/>
<rect x="243.34" y="203.67" width="11.69" height="14.08" fill="#7070f0"/>
<rect x="254.98" y="203.67" width="11.69" height="14.08" fill="#b0b0f5"/>
<rect x="266.62" y="203.67" width="11.69" height="14.08" fill="#3030f0"/>
<rect x="278.26" y="203.67" width="11.69" height="14.08" fill="#1818f0"/>
<line x1="243.34" y1="63.400000000000006" x2="243.34" y2="217.70000000000002" stroke="#8a8a8a" stroke-width="0.8"/>
<line x1="254.98" y1="63.400000000000006" x2="254.98" y2="217.70000000000002" stroke="#8a8a8a" stroke-width="0.8"/>
<line x1="266.62" y1="63.400000000000006" x2="266.62" y2="217.70000000000002" stroke="#8a8a8a" stroke-width="0.8"/>
<line x1="278.26" y1="63.400000000000006" x2="278.26" y2="217.70000000000002" stroke="#8a8a8a" stroke-width="0.8"/>
<line x1="231.7" y1="77.43" x2="289.90000000000003" y2="77.43" stroke="#8a8a8a" stroke-width="0.8"/>
<line x1="231.7" y1="91.45" x2="289.90000000000003" y2="91.45" stroke="#8a8a8a" stroke-width="0.8"/>
<line x1="231.7" y1="105.48" x2="289.90000000000003" y2="105.48" stroke="#8a8a8a" stroke-width="0.8"/>
<line x1="231.7" y1="119.51" x2="289.90000000000003" y2="119.51" stroke="#8a8a8a" stroke-width="0.8"/>
<line x1="231.7" y1="133.54" x2="289.90000000000003" y2="133.54" stroke="#8a8a8a" stroke-width="0.8"/>
<line x1="231.7" y1="147.56" x2="289.90000000000003" y2="147.56" stroke="#8a8a8a" stroke-width="0.8"/>
<line x1="231.7" y1="161.59" x2="289.90000000000003" y2="161.59" stroke="#8a8a8a" stroke-width="0.8"/>
<line x1="231.7" y1="175.62" x2="289.90000000000003" y2="175.62" stroke="#8a8a8a" stroke-width="0.8"/>
<line x1="231.7" y1="189.65" x2="289.90000000000003" y2="189.65" stroke="#8a8a8a" stroke-width="0.8"/>
<line x1="231.7" y1="203.67" x2="289.90000000000003" y2="203.67" stroke="#8a8a8a" stroke-width="0.8"/>
<rect x="230.6" y="62.300000000000004" width="60.4" height="156.5" fill="none" stroke="#000" stroke-width="2.2"/>
<rect x="301.0" y="63.4" width="11.67" height="14.08" fill="#7878f0"/>
<rect x="312.62" y="63.4" width="11.67" height="14.08" fill="#1010e8"/>
<rect x="324.24" y="63.4" width="11.67" height="14.08" fill="#6060f0"/>
<rect x="335.86" y="63.4" width="11.67" height="14.08" fill="#0808e8"/>
<rect x="347.48" y="63.4" width="11.67" height="14.08" fill="#4848f0"/>
<rect x="301.0" y="77.43" width="11.67" height="14.08" fill="#a8a8f5"/>
<rect x="312.62" y="77.43" width="11.67" height="14.08" fill="#1818f0"/>
<rect x="324.24" y="77.43" width="11.67" height="14.08" fill="#4040f0"/>
<rect x="335.86" y="77.43" width="11.67" height="14.08" fill="#3838f0"/>
<rect x="347.48" y="77.43" width="11.67" height="14.08" fill="#0808f0"/>
<rect x="301.0" y="91.45" width="11.67" height="14.08" fill="#7878f0"/>
<rect x="312.62" y="91.45" width="11.67" height="14.08" fill="#1010f0"/>
<rect x="324.24" y="91.45" width="11.67" height="14.08" fill="#1818f0"/>
<rect x="335.86" y="91.45" width="11.67" height="14.08" fill="#0808e8"/>
<rect x="347.48" y="91.45" width="11.67" height="14.08" fill="#2828f0"/>
<rect x="301.0" y="105.48" width="11.67" height="14.08" fill="#2020f0"/>
<rect x="312.62" y="105.48" width="11.67" height="14.08" fill="#0808e8"/>
<rect x="324.24" y="105.48" width="11.67" height="14.08" fill="#3838f0"/>
<rect x="335.86" y="105.48" width="11.67" height="14.08" fill="#3030f0"/>
<rect x="347.48" y="105.48" width="11.67" height="14.08" fill="#a0a0f5"/>
<rect x="301.0" y="119.51" width="11.67" height="14.08" fill="#8080f0"/>
<rect x="312.62" y="119.51" width="11.67" height="14.08" fill="#0000e8"/>
<rect x="324.24" y="119.51" width="11.67" height="14.08" fill="#4848f0"/>
<rect x="335.86" y="119.51" width="11.67" height="14.08" fill="#8080f0"/>
<rect x="347.48" y="119.51" width="11.67" height="14.08" fill="#f5e0e0"/>
<rect x="301.0" y="133.54" width="11.67" height="14.08" fill="#0808f0"/>
<rect x="312.62" y="133.54" width="11.67" height="14.08" fill="#5050f0"/>
<rect x="324.24" y="133.54" width="11.67" height="14.08" fill="#4040f0"/>
<rect x="335.86" y="133.54" width="11.67" height="14.08" fill="#7070f0"/>
<rect x="347.48" y="133.54" width="11.67" height="14.08" fill="#f0b0a8"/>
<rect x="301.0" y="147.56" width="11.67" height="14.08" fill="#0808f0"/>
<rect x="312.62" y="147.56" width="11.67" height="14.08" fill="#1818f0"/>
<rect x="324.24" y="147.56" width="11.67" height="14.08" fill="#0808e8"/>
<rect x="335.86" y="147.56" width="11.67" height="14.08" fill="#0808e8"/>
<rect x="347.48" y="147.56" width="11.67" height="14.08" fill="#1818f0"/>
<rect x="301.0" y="161.59" width="11.67" height="14.08" fill="#0808f0"/>
<rect x="312.62" y="161.59" width="11.67" height="14.08" fill="#9898f0"/>
<rect x="324.24" y="161.59" width="11.67" height="14.08" fill="#8888f0"/>
<rect x="335.86" y="161.59" width="11.67" height="14.08" fill="#7878f0"/>
<rect x="347.48" y="161.59" width="11.67" height="14.08" fill="#fcf0ec"/>
<rect x="301.0" y="175.62" width="11.67" height="14.08" fill="#a8a8f5"/>
<rect x="312.62" y="175.62" width="11.67" height="14.08" fill="#e87868"/>
<rect x="324.24" y="175.62" width="11.67" height="14.08" fill="#1818f0"/>
<rect x="335.86" y="175.62" width="11.67" height="14.08" fill="#4040f0"/>
<rect x="347.48" y="175.62" width="11.67" height="14.08" fill="#fcfcfc"/>
<rect x="301.0" y="189.65" width="11.67" height="14.08" fill="#7070f0"/>
<rect x="312.62" y="189.65" width="11.67" height="14.08" fill="#9090f0"/>
<rect x="324.24" y="189.65" width="11.67" height="14.08" fill="#d0d0f8"/>
<rect x="335.86" y="189.65" width="11.67" height="14.08" fill="#f8e0e0"/>
<rect x="347.48" y="189.65" width="11.67" height="14.08" fill="#e01010"/>
<rect x="301.0" y="203.67" width="11.67" height="14.08" fill="#7878f0"/>
<rect x="312.62" y="203.67" width="11.67" height="14.08" fill="#2828f0"/>
<rect x="324.24" y="203.67" width="11.67" height="14.08" fill="#d8d8f8"/>
<rect x="335.86" y="203.67" width="11.67" height="14.08" fill="#f0b8b8"/>
<rect x="347.48" y="203.67" width="11.67" height="14.08" fill="#e01010"/>
<line x1="312.62" y1="63.400000000000006" x2="312.62" y2="217.70000000000002" stroke="#8a8a8a" stroke-width="0.8"/>
<line x1="324.24" y1="63.400000000000006" x2="324.24" y2="217.70000000000002" stroke="#8a8a8a" stroke-width="0.8"/>
<line x1="335.86" y1="63.400000000000006" x2="335.86" y2="217.70000000000002" stroke="#8a8a8a" stroke-width="0.8"/>
<line x1="347.48" y1="63.400000000000006" x2="347.48" y2="217.70000000000002" stroke="#8a8a8a" stroke-width="0.8"/>
<line x1="301.0" y1="77.43" x2="359.1" y2="77.43" stroke="#8a8a8a" stroke-width="0.8"/>
<line x1="301.0" y1="91.45" x2="359.1" y2="91.45" stroke="#8a8a8a" stroke-width="0.8"/>
<line x1="301.0" y1="105.48" x2="359.1" y2="105.48" stroke="#8a8a8a" stroke-width="0.8"/>
<line x1="301.0" y1="119.51" x2="359.1" y2="119.51" stroke="#8a8a8a" stroke-width="0.8"/>
<line x1="301.0" y1="133.54" x2="359.1" y2="133.54" stroke="#8a8a8a" stroke-width="0.8"/>
<line x1="301.0" y1="147.56" x2="359.1" y2="147.56" stroke="#8a8a8a" stroke-width="0.8"/>
<line x1="301.0" y1="161.59" x2="359.1" y2="161.59" stroke="#8a8a8a" stroke-width="0.8"/>
<line x1="301.0" y1="175.62" x2="359.1" y2="175.62" stroke="#8a8a8a" stroke-width="0.8"/>
<line x1="301.0" y1="189.65" x2="359.1" y2="189.65" stroke="#8a8a8a" stroke-width="0.8"/>
<line x1="301.0" y1="203.67" x2="359.1" y2="203.67" stroke="#8a8a8a" stroke-width="0.8"/>
<rect x="299.90000000000003" y="62.300000000000004" width="60.3" height="156.5" fill="none" stroke="#000" stroke-width="2.2"/>
<rect x="371.5" y="63.4" width="11.51" height="14.08" fill="#8080f0"/>
<rect x="382.96" y="63.4" width="11.51" height="14.08" fill="#7070f0"/>
<rect x="394.42" y="63.4" width="11.51" height="14.08" fill="#9090f0"/>
<rect x="405.88" y="63.4" width="11.51" height="14.08" fill="#7070f0"/>
<rect x="417.34" y="63.4" width="11.51" height="14.08" fill="#b8b8f5"/>
<rect x="371.5" y="77.43" width="11.51" height="14.08" fill="#fcf4f0"/>
<rect x="382.96" y="77.43" width="11.51" height="14.08" fill="#a8a8f5"/>
<rect x="394.42" y="77.43" width="11.51" height="14.08" fill="#ececf8"/>
<rect x="405.88" y="77.43" width="11.51" height="14.08" fill="#6868f0"/>
<rect x="417.34" y="77.43" width="11.51" height="14.08" fill="#f8e0d8"/>
<rect x="371.5" y="91.45" width="11.51" height="14.08" fill="#5858f0"/>
<rect x="382.96" y="91.45" width="11.51" height="14.08" fill="#7878f0"/>
<rect x="394.42" y="91.45" width="11.51" height="14.08" fill="#c0c0f8"/>
<rect x="405.88" y="91.45" width="11.51" height="14.08" fill="#1818e8"/>
<rect x="417.34" y="91.45" width="11.51" height="14.08" fill="#d0d0f8"/>
<rect x="371.5" y="105.48" width="11.51" height="14.08" fill="#d0d0f8"/>
<rect x="382.96" y="105.48" width="11.51" height="14.08" fill="#8888f0"/>
<rect x="394.42" y="105.48" width="11.51" height="14.08" fill="#f4f4fa"/>
<rect x="405.88" y="105.48" width="11.51" height="14.08" fill="#6868f0"/>
<rect x="417.34" y="105.48" width="11.51" height="14.08" fill="#f0c0b8"/>
<rect x="371.5" y="119.51" width="11.51" height="14.08" fill="#6868f0"/>
<rect x="382.96" y="119.51" width="11.51" height="14.08" fill="#0808e8"/>
<rect x="394.42" y="119.51" width="11.51" height="14.08" fill="#b8b8f5"/>
<rect x="405.88" y="119.51" width="11.51" height="14.08" fill="#4848f0"/>
<rect x="417.34" y="119.51" width="11.51" height="14.08" fill="#f8e0e0"/>
<rect x="371.5" y="133.54" width="11.51" height="14.08" fill="#a0a0f5"/>
<rect x="382.96" y="133.54" width="11.51" height="14.08" fill="#1818e8"/>
<rect x="394.42" y="133.54" width="11.51" height="14.08" fill="#e8e8f8"/>
<rect x="405.88" y="133.54" width="11.51" height="14.08" fill="#9898f0"/>
<rect x="417.34" y="133.54" width="11.51" height="14.08" fill="#f0b0a8"/>
<rect x="371.5" y="147.56" width="11.51" height="14.08" fill="#b0b0f5"/>
<rect x="382.96" y="147.56" width="11.51" height="14.08" fill="#b8b8f5"/>
<rect x="394.42" y="147.56" width="11.51" height="14.08" fill="#f0a098"/>
<rect x="405.88" y="147.56" width="11.51" height="14.08" fill="#e01010"/>
<rect x="417.34" y="147.56" width="11.51" height="14.08" fill="#f8e0e0"/>
<rect x="371.5" y="161.59" width="11.51" height="14.08" fill="#f8ece8"/>
<rect x="382.96" y="161.59" width="11.51" height="14.08" fill="#e0e0f8"/>
<rect x="394.42" y="161.59" width="11.51" height="14.08" fill="#e01818"/>
<rect x="405.88" y="161.59" width="11.51" height="14.08" fill="#e02828"/>
<rect x="417.34" y="161.59" width="11.51" height="14.08" fill="#f0b0a8"/>
<rect x="371.5" y="175.62" width="11.51" height="14.08" fill="#0808e8"/>
<rect x="382.96" y="175.62" width="11.51" height="14.08" fill="#5858f0"/>
<rect x="394.42" y="175.62" width="11.51" height="14.08" fill="#8080f0"/>
<rect x="405.88" y="175.62" width="11.51" height="14.08" fill="#fcece0"/>
<rect x="417.34" y="175.62" width="11.51" height="14.08" fill="#2020f0"/>
<rect x="371.5" y="189.65" width="11.51" height="14.08" fill="#2828f0"/>
<rect x="382.96" y="189.65" width="11.51" height="14.08" fill="#2020f0"/>
<rect x="394.42" y="189.65" width="11.51" height="14.08" fill="#6868f0"/>
<rect x="405.88" y="189.65" width="11.51" height="14.08" fill="#fcfcfc"/>
<rect x="417.34" y="189.65" width="11.51" height="14.08" fill="#b8b8f5"/>
<rect x="371.5" y="203.67" width="11.51" height="14.08" fill="#3838f0"/>
<rect x="382.96" y="203.67" width="11.51" height="14.08" fill="#3838f0"/>
<rect x="394.42" y="203.67" width="11.51" height="14.08" fill="#6868f0"/>
<rect x="405.88" y="203.67" width="11.51" height="14.08" fill="#f0b8b0"/>
<rect x="417.34" y="203.67" width="11.51" height="14.08" fill="#b0b0f5"/>
<line x1="382.96" y1="63.400000000000006" x2="382.96" y2="217.70000000000002" stroke="#8a8a8a" stroke-width="0.8"/>
<line x1="394.42" y1="63.400000000000006" x2="394.42" y2="217.70000000000002" stroke="#8a8a8a" stroke-width="0.8"/>
<line x1="405.88" y1="63.400000000000006" x2="405.88" y2="217.70000000000002" stroke="#8a8a8a" stroke-width="0.8"/>
<line x1="417.34" y1="63.400000000000006" x2="417.34" y2="217.70000000000002" stroke="#8a8a8a" stroke-width="0.8"/>
<line x1="371.5" y1="77.43" x2="428.8" y2="77.43" stroke="#8a8a8a" stroke-width="0.8"/>
<line x1="371.5" y1="91.45" x2="428.8" y2="91.45" stroke="#8a8a8a" stroke-width="0.8"/>
<line x1="371.5" y1="105.48" x2="428.8" y2="105.48" stroke="#8a8a8a" stroke-width="0.8"/>
<line x1="371.5" y1="119.51" x2="428.8" y2="119.51" stroke="#8a8a8a" stroke-width="0.8"/>
<line x1="371.5" y1="133.54" x2="428.8" y2="133.54" stroke="#8a8a8a" stroke-width="0.8"/>
<line x1="371.5" y1="147.56" x2="428.8" y2="147.56" stroke="#8a8a8a" stroke-width="0.8"/>
<line x1="371.5" y1="161.59" x2="428.8" y2="161.59" stroke="#8a8a8a" stroke-width="0.8"/>
<line x1="371.5" y1="175.62" x2="428.8" y2="175.62" stroke="#8a8a8a" stroke-width="0.8"/>
<line x1="371.5" y1="189.65" x2="428.8" y2="189.65" stroke="#8a8a8a" stroke-width="0.8"/>
<line x1="371.5" y1="203.67" x2="428.8" y2="203.67" stroke="#8a8a8a" stroke-width="0.8"/>
<rect x="370.40000000000003" y="62.300000000000004" width="59.5" height="156.5" fill="none" stroke="#000" stroke-width="2.2"/>
<text x="440.2" y="72.0" font-size="12.9" fill="#1a1a1a" font-weight="bold" textLength="37.64" lengthAdjust="spacingAndGlyphs">Cysteine</text>
<text x="440.2" y="86.4" font-size="12.9" fill="#1a1a1a" font-weight="bold" textLength="44.15" lengthAdjust="spacingAndGlyphs">Glutamine</text>
<text x="440.2" y="100.8" font-size="12.9" fill="#1a1a1a" font-weight="bold" textLength="27.6" lengthAdjust="spacingAndGlyphs">Serine</text>
<text x="440.2" y="115.2" font-size="12.9" fill="#1a1a1a" font-weight="bold" textLength="32.61" lengthAdjust="spacingAndGlyphs">Alanine</text>
<text x="440.2" y="129.6" font-size="12.9" fill="#1a1a1a" font-weight="bold" textLength="44.16" lengthAdjust="spacingAndGlyphs">Glutamate</text>
<text x="440.2" y="144.0" font-size="12.9" fill="#1a1a1a" font-weight="bold" textLength="50.16" lengthAdjust="spacingAndGlyphs">Glutathione</text>
<text x="440.2" y="158.4" font-size="12.9" fill="#1a1a1a" font-weight="bold" textLength="42.66" lengthAdjust="spacingAndGlyphs">Succinate</text>
<text x="440.2" y="172.8" font-size="12.9" fill="#1a1a1a" font-weight="bold" textLength="31.61" lengthAdjust="spacingAndGlyphs">Lactate</text>
<text x="440.2" y="187.2" font-size="12.9" fill="#1a1a1a" font-weight="bold" textLength="26.09" lengthAdjust="spacingAndGlyphs">GSSG</text>
<text x="440.2" y="201.6" font-size="12.9" fill="#1a1a1a" font-weight="bold" textLength="35.13" lengthAdjust="spacingAndGlyphs">2,3-DPG</text>
<text x="440.2" y="216.0" font-size="12.9" fill="#1a1a1a" font-weight="bold" textLength="17.39" lengthAdjust="spacingAndGlyphs">ATP</text>
<rect x="136.1" y="228.8" width="374.8" height="184.4" fill="none" stroke="#000" stroke-width="2.2"/>
<text x="143.8" y="247" font-size="12" fill="#000" stroke="#000" stroke-width="0.5" font-weight="bold">C</text>
<line x1="165" y1="240.5" x2="165" y2="371.3" stroke="#5ba8e0" stroke-width="2.4"/>
<path d="M162.2 241.8 L167.9 241.8 L165.05 235.5 Z" fill="#5ba8e0"/>
<text x="0" y="0" font-size="11.5" fill="#5ba8e0" font-style="italic" textLength="66.8" lengthAdjust="spacingAndGlyphs" transform="translate(158.4 332.4) rotate(-90)">Intensity (AU)</text>
<line x1="188.6" y1="238" x2="188.6" y2="298.2" stroke="#6a6a6a" stroke-width="1.0"/>
<line x1="188.6" y1="298.2" x2="277.6" y2="298.2" stroke="#6a6a6a" stroke-width="1.0"/>
<line x1="187.29999999999998" y1="239" x2="188.6" y2="239" stroke="#6a6a6a" stroke-width="0.7"/>
<text x="173.82" y="240.6" font-size="4.7" fill="#111" stroke="#111" stroke-width="0.12" font-weight="bold" textLength="13.28" lengthAdjust="spacingAndGlyphs">1.5x10⁸</text>
<line x1="187.29999999999998" y1="258.7" x2="188.6" y2="258.7" stroke="#6a6a6a" stroke-width="0.7"/>
<text x="173.82" y="260.3" font-size="4.7" fill="#111" stroke="#111" stroke-width="0.12" font-weight="bold" textLength="13.28" lengthAdjust="spacingAndGlyphs">1.0x10⁸</text>
<line x1="187.29999999999998" y1="278.4" x2="188.6" y2="278.4" stroke="#6a6a6a" stroke-width="0.7"/>
<text x="174.05" y="280.0" font-size="4.7" fill="#111" stroke="#111" stroke-width="0.12" font-weight="bold" textLength="13.05" lengthAdjust="spacingAndGlyphs">5.0x10⁷</text>
<line x1="187.29999999999998" y1="298.2" x2="188.6" y2="298.2" stroke="#6a6a6a" stroke-width="0.7"/>
<text x="185.01" y="299.8" font-size="4.7" fill="#111" stroke="#111" stroke-width="0.12" font-weight="bold" textLength="2.09" lengthAdjust="spacingAndGlyphs">0</text>
<text x="191.3" y="245.1" font-size="9.8" fill="#111" stroke="#111" stroke-width="0.35" font-weight="bold" textLength="37.8" lengthAdjust="spacingAndGlyphs">GLUTAMATE</text>
<line x1="199.89999999999998" y1="259.4" x2="199.89999999999998" y2="260.4" stroke="#2a0000" stroke-width="1"/>
<line x1="196.77999999999997" y1="260.4" x2="203.01999999999998" y2="260.4" stroke="#2a0000" stroke-width="1"/>
<rect x="192.6" y="255.0" width="14.599999999999994" height="3.8999999999999773" fill="#ec1010" stroke="#2a0000" stroke-width="1"/>
<line x1="192.6" y1="258.3" x2="207.2" y2="258.3" stroke="#2a0000" stroke-width="1.4"/>
<line x1="222.05" y1="246.8" x2="222.05" y2="249.4" stroke="#1e4a0e" stroke-width="1"/>
<line x1="218.95000000000002" y1="246.8" x2="225.15" y2="246.8" stroke="#1e4a0e" stroke-width="1"/>
<line x1="222.05" y1="260.3" x2="222.05" y2="262.1" stroke="#1e4a0e" stroke-width="1"/>
<line x1="218.95000000000002" y1="262.1" x2="225.15" y2="262.1" stroke="#1e4a0e" stroke-width="1"/>
<rect x="214.8" y="249.9" width="14.5" height="9.900000000000006" fill="#66bb33" stroke="#1e4a0e" stroke-width="1"/>
<line x1="214.8" y1="256.2" x2="229.3" y2="256.2" stroke="#1e4a0e" stroke-width="1.4"/>
<line x1="244.4" y1="260.3" x2="244.4" y2="264.9" stroke="#203a78" stroke-width="1"/>
<line x1="241.44" y1="260.3" x2="247.36" y2="260.3" stroke="#203a78" stroke-width="1"/>
<line x1="244.4" y1="277.6" x2="244.4" y2="279.8" stroke="#203a78" stroke-width="1"/>
<line x1="241.44" y1="279.8" x2="247.36" y2="279.8" stroke="#203a78" stroke-width="1"/>
<rect x="237.5" y="265.4" width="13.800000000000011" height="11.700000000000045" fill="#a9c6f0" stroke="#203a78" stroke-width="1"/>
<line x1="237.5" y1="271.3" x2="251.3" y2="271.3" stroke="#203a78" stroke-width="1.4"/>
<line x1="266.75" y1="259.6" x2="266.75" y2="263.1" stroke="#5a0a5a" stroke-width="1"/>
<line x1="263.77" y1="259.6" x2="269.73" y2="259.6" stroke="#5a0a5a" stroke-width="1"/>
<line x1="266.75" y1="276.7" x2="266.75" y2="278.5" stroke="#5a0a5a" stroke-width="1"/>
<line x1="263.77" y1="278.5" x2="269.73" y2="278.5" stroke="#5a0a5a" stroke-width="1"/>
<rect x="259.8" y="263.6" width="13.899999999999977" height="12.599999999999966" fill="#d048d0" stroke="#5a0a5a" stroke-width="1"/>
<line x1="259.8" y1="271.6" x2="273.7" y2="271.6" stroke="#5a0a5a" stroke-width="1.4"/>
<path d="M228.5 247.60000000000002 L228.5 246.3 L267.5 246.3 L267.5 247.60000000000002" fill="none" stroke="#333" stroke-width="0.9"/>
<text x="247.1" y="245.8" font-size="8" fill="#111" font-weight="bold" text-anchor="middle">*</text>
<line x1="294.9" y1="236.6" x2="294.9" y2="297.2" stroke="#6a6a6a" stroke-width="1.0"/>
<line x1="294.9" y1="297.2" x2="383.8" y2="297.2" stroke="#6a6a6a" stroke-width="1.0"/>
<line x1="293.59999999999997" y1="237.5" x2="294.9" y2="237.5" stroke="#6a6a6a" stroke-width="0.7"/>
<text x="280.12" y="239.1" font-size="4.7" fill="#111" stroke="#111" stroke-width="0.12" font-weight="bold" textLength="13.28" lengthAdjust="spacingAndGlyphs">2.0x10⁸</text>
<line x1="293.59999999999997" y1="252.4" x2="294.9" y2="252.4" stroke="#6a6a6a" stroke-width="0.7"/>
<text x="280.12" y="254.0" font-size="4.7" fill="#111" stroke="#111" stroke-width="0.12" font-weight="bold" textLength="13.28" lengthAdjust="spacingAndGlyphs">1.5x10⁸</text>
<line x1="293.59999999999997" y1="267.3" x2="294.9" y2="267.3" stroke="#6a6a6a" stroke-width="0.7"/>
<text x="280.12" y="268.90000000000003" font-size="4.7" fill="#111" stroke="#111" stroke-width="0.12" font-weight="bold" textLength="13.28" lengthAdjust="spacingAndGlyphs">1.0x10⁸</text>
<line x1="293.59999999999997" y1="282.2" x2="294.9" y2="282.2" stroke="#6a6a6a" stroke-width="0.7"/>
<text x="280.35" y="283.8" font-size="4.7" fill="#111" stroke="#111" stroke-width="0.12" font-weight="bold" textLength="13.05" lengthAdjust="spacingAndGlyphs">5.0x10⁷</text>
<line x1="293.59999999999997" y1="297.2" x2="294.9" y2="297.2" stroke="#6a6a6a" stroke-width="0.7"/>
<text x="291.31" y="298.8" font-size="4.7" fill="#111" stroke="#111" stroke-width="0.12" font-weight="bold" textLength="2.09" lengthAdjust="spacingAndGlyphs">0</text>
<text x="297.4" y="243.9" font-size="9.6" fill="#111" stroke="#111" stroke-width="0.35" font-weight="bold" textLength="27.5" lengthAdjust="spacingAndGlyphs">ALANINE</text>
<rect x="298.7" y="260.3" width="14.100000000000023" height="5.599999999999966" fill="#ec1010" stroke="#2a0000" stroke-width="1"/>
<line x1="298.7" y1="263.3" x2="312.8" y2="263.3" stroke="#2a0000" stroke-width="1.4"/>
<line x1="327.9" y1="261.4" x2="327.9" y2="266.7" stroke="#1e4a0e" stroke-width="1"/>
<line x1="324.85999999999996" y1="266.7" x2="330.94" y2="266.7" stroke="#1e4a0e" stroke-width="1"/>
<rect x="320.8" y="249.1" width="14.199999999999989" height="11.799999999999983" fill="#66bb33" stroke="#1e4a0e" stroke-width="1"/>
<line x1="350.45" y1="269.9" x2="350.45" y2="273.5" stroke="#203a78" stroke-width="1"/>
<line x1="347.43" y1="269.9" x2="353.46999999999997" y2="269.9" stroke="#203a78" stroke-width="1"/>
<line x1="350.45" y1="279.8" x2="350.45" y2="280.6" stroke="#203a78" stroke-width="1"/>
<line x1="347.43" y1="280.6" x2="353.46999999999997" y2="280.6" stroke="#203a78" stroke-width="1"/>
<rect x="343.4" y="274.0" width="14.100000000000023" height="5.300000000000011" fill="#a9c6f0" stroke="#203a78" stroke-width="1"/>
<line x1="343.4" y1="276.6" x2="357.5" y2="276.6" stroke="#203a78" stroke-width="1.4"/>
<line x1="372.8" y1="259.1" x2="372.8" y2="261.4" stroke="#5a0a5a" stroke-width="1"/>
<line x1="369.72" y1="259.1" x2="375.88" y2="259.1" stroke="#5a0a5a" stroke-width="1"/>
<line x1="372.8" y1="272.4" x2="372.8" y2="273.2" stroke="#5a0a5a" stroke-width="1"/>
<line x1="369.72" y1="273.2" x2="375.88" y2="273.2" stroke="#5a0a5a" stroke-width="1"/>
<rect x="365.6" y="261.9" width="14.399999999999977" height="10.0" fill="#d048d0" stroke="#5a0a5a" stroke-width="1"/>
<line x1="365.6" y1="266.7" x2="380.0" y2="266.7" stroke="#5a0a5a" stroke-width="1.4"/>
<path d="M334.4 245.8 L334.4 244.5 L373.6 244.5 L373.6 245.8" fill="none" stroke="#333" stroke-width="0.9"/>
<text x="355.6" y="244.4" font-size="8" fill="#111" font-weight="bold" text-anchor="middle">**</text>
<line x1="403" y1="235.5" x2="403" y2="294.3" stroke="#6a6a6a" stroke-width="1.0"/>
<line x1="403" y1="294.3" x2="492.5" y2="294.3" stroke="#6a6a6a" stroke-width="1.0"/>
<line x1="401.7" y1="235.6" x2="403" y2="235.6" stroke="#6a6a6a" stroke-width="0.7"/>
<text x="388.45" y="237.2" font-size="4.7" fill="#111" stroke="#111" stroke-width="0.12" font-weight="bold" textLength="13.05" lengthAdjust="spacingAndGlyphs">8.0x10⁷</text>
<line x1="401.7" y1="250.3" x2="403" y2="250.3" stroke="#6a6a6a" stroke-width="0.7"/>
<text x="388.45" y="251.9" font-size="4.7" fill="#111" stroke="#111" stroke-width="0.12" font-weight="bold" textLength="13.05" lengthAdjust="spacingAndGlyphs">6.0x10⁷</text>
<line x1="401.7" y1="265" x2="403" y2="265" stroke="#6a6a6a" stroke-width="0.7"/>
<text x="388.45" y="266.6" font-size="4.7" fill="#111" stroke="#111" stroke-width="0.12" font-weight="bold" textLength="13.05" lengthAdjust="spacingAndGlyphs">4.0x10⁷</text>
<line x1="401.7" y1="279.7" x2="403" y2="279.7" stroke="#6a6a6a" stroke-width="0.7"/>
<text x="388.45" y="281.3" font-size="4.7" fill="#111" stroke="#111" stroke-width="0.12" font-weight="bold" textLength="13.05" lengthAdjust="spacingAndGlyphs">2.0x10⁷</text>
<line x1="401.7" y1="294.3" x2="403" y2="294.3" stroke="#6a6a6a" stroke-width="0.7"/>
<text x="399.41" y="295.90000000000003" font-size="4.7" fill="#111" stroke="#111" stroke-width="0.12" font-weight="bold" textLength="2.09" lengthAdjust="spacingAndGlyphs">0</text>
<text x="405.9" y="241.5" font-size="9.7" fill="#111" stroke="#111" stroke-width="0.35" font-weight="bold" textLength="26.9" lengthAdjust="spacingAndGlyphs">LACTATE</text>
<line x1="414.5" y1="264.2" x2="414.5" y2="265.0" stroke="#2a0000" stroke-width="1"/>
<line x1="411.5" y1="264.2" x2="417.5" y2="264.2" stroke="#2a0000" stroke-width="1"/>
<line x1="414.5" y1="279.3" x2="414.5" y2="281.0" stroke="#2a0000" stroke-width="1"/>
<line x1="411.5" y1="281.0" x2="417.5" y2="281.0" stroke="#2a0000" stroke-width="1"/>
<rect x="407.5" y="265.5" width="14.0" height="13.300000000000011" fill="#ec1010" stroke="#2a0000" stroke-width="1"/>
<line x1="407.5" y1="273.8" x2="421.5" y2="273.8" stroke="#2a0000" stroke-width="1.4"/>
<line x1="437.0" y1="253.0" x2="437.0" y2="258.5" stroke="#1e4a0e" stroke-width="1"/>
<line x1="434.0" y1="253.0" x2="440.0" y2="253.0" stroke="#1e4a0e" stroke-width="1"/>
<line x1="437.0" y1="276.3" x2="437.0" y2="281.3" stroke="#1e4a0e" stroke-width="1"/>
<line x1="434.0" y1="281.3" x2="440.0" y2="281.3" stroke="#1e4a0e" stroke-width="1"/>
<rect x="430.0" y="259.0" width="14.0" height="16.80000000000001" fill="#66bb33" stroke="#1e4a0e" stroke-width="1"/>
<line x1="430.0" y1="266.0" x2="444.0" y2="266.0" stroke="#1e4a0e" stroke-width="1.4"/>
<line x1="458.8" y1="261.3" x2="458.8" y2="266.3" stroke="#203a78" stroke-width="1"/>
<line x1="455.8" y1="261.3" x2="461.8" y2="261.3" stroke="#203a78" stroke-width="1"/>
<line x1="458.8" y1="280.5" x2="458.8" y2="286.0" stroke="#203a78" stroke-width="1"/>
<line x1="455.8" y1="286.0" x2="461.8" y2="286.0" stroke="#203a78" stroke-width="1"/>
<rect x="451.8" y="266.8" width="14.0" height="13.199999999999989" fill="#a9c6f0" stroke="#203a78" stroke-width="1"/>
<line x1="451.8" y1="273.0" x2="465.8" y2="273.0" stroke="#203a78" stroke-width="1.4"/>
<line x1="481.05" y1="243.5" x2="481.05" y2="244.3" stroke="#5a0a5a" stroke-width="1"/>
<line x1="478.15000000000003" y1="243.5" x2="483.95" y2="243.5" stroke="#5a0a5a" stroke-width="1"/>
<line x1="481.05" y1="263.5" x2="481.05" y2="266.0" stroke="#5a0a5a" stroke-width="1"/>
<line x1="478.15000000000003" y1="266.0" x2="483.95" y2="266.0" stroke="#5a0a5a" stroke-width="1"/>
<rect x="474.3" y="244.8" width="13.5" height="18.19999999999999" fill="#d048d0" stroke="#5a0a5a" stroke-width="1"/>
<line x1="474.3" y1="257.3" x2="487.8" y2="257.3" stroke="#5a0a5a" stroke-width="1.4"/>
<path d="M442.5 241.0 L442.5 239.7 L482 239.7 L482 241.0" fill="none" stroke="#333" stroke-width="0.9"/>
<text x="462.1" y="239.6" font-size="8" fill="#111" font-weight="bold" text-anchor="middle">*</text>
<line x1="188.4" y1="305.5" x2="188.4" y2="365.4" stroke="#6a6a6a" stroke-width="1.0"/>
<line x1="188.4" y1="365.4" x2="277.8" y2="365.4" stroke="#6a6a6a" stroke-width="1.0"/>
<line x1="187.1" y1="306.3" x2="188.4" y2="306.3" stroke="#6a6a6a" stroke-width="0.7"/>
<text x="173.62" y="307.90000000000003" font-size="4.7" fill="#111" stroke="#111" stroke-width="0.12" font-weight="bold" textLength="13.28" lengthAdjust="spacingAndGlyphs">1.0x10⁸</text>
<line x1="187.1" y1="318" x2="188.4" y2="318" stroke="#6a6a6a" stroke-width="0.7"/>
<text x="173.85" y="319.6" font-size="4.7" fill="#111" stroke="#111" stroke-width="0.12" font-weight="bold" textLength="13.05" lengthAdjust="spacingAndGlyphs">8.0x10⁷</text>
<line x1="187.1" y1="329.8" x2="188.4" y2="329.8" stroke="#6a6a6a" stroke-width="0.7"/>
<text x="173.85" y="331.40000000000003" font-size="4.7" fill="#111" stroke="#111" stroke-width="0.12" font-weight="bold" textLength="13.05" lengthAdjust="spacingAndGlyphs">6.0x10⁷</text>
<line x1="187.1" y1="341.6" x2="188.4" y2="341.6" stroke="#6a6a6a" stroke-width="0.7"/>
<text x="173.85" y="343.20000000000005" font-size="4.7" fill="#111" stroke="#111" stroke-width="0.12" font-weight="bold" textLength="13.05" lengthAdjust="spacingAndGlyphs">4.0x10⁷</text>
<line x1="187.1" y1="353.5" x2="188.4" y2="353.5" stroke="#6a6a6a" stroke-width="0.7"/>
<text x="173.85" y="355.1" font-size="4.7" fill="#111" stroke="#111" stroke-width="0.12" font-weight="bold" textLength="13.05" lengthAdjust="spacingAndGlyphs">2.0x10⁷</text>
<line x1="187.1" y1="365.4" x2="188.4" y2="365.4" stroke="#6a6a6a" stroke-width="0.7"/>
<text x="184.81" y="367.0" font-size="4.7" fill="#111" stroke="#111" stroke-width="0.12" font-weight="bold" textLength="2.09" lengthAdjust="spacingAndGlyphs">0</text>
<text x="191.3" y="312.6" font-size="9.8" fill="#111" stroke="#111" stroke-width="0.35" font-weight="bold" textLength="16.6" lengthAdjust="spacingAndGlyphs">Total</text>
<text x="212.0" y="312.6" font-size="9.8" fill="#111" stroke="#111" stroke-width="0.35" font-weight="bold" textLength="44.3" lengthAdjust="spacingAndGlyphs">GLUTATHIONE</text>
<line x1="199.95" y1="336.6" x2="199.95" y2="338.9" stroke="#2a0000" stroke-width="1"/>
<line x1="196.85" y1="338.9" x2="203.04999999999998" y2="338.9" stroke="#2a0000" stroke-width="1"/>
<rect x="192.7" y="326.8" width="14.5" height="9.300000000000011" fill="#ec1010" stroke="#2a0000" stroke-width="1"/>
<line x1="192.7" y1="329.7" x2="207.2" y2="329.7" stroke="#2a0000" stroke-width="1.4"/>
<rect x="214.8" y="318.1" width="14.399999999999977" height="4.199999999999989" fill="#5a9a30" stroke="#1e3a0e" stroke-width="1"/>
<line x1="214.8" y1="320.2" x2="229.2" y2="320.2" stroke="#1e3a0e" stroke-width="1.4"/>
<rect x="237.5" y="341.1" width="14.0" height="4.199999999999989" fill="#7080b0" stroke="#202850" stroke-width="1"/>
<line x1="266.75" y1="333.2" x2="266.75" y2="334.0" stroke="#5a0a5a" stroke-width="1"/>
<line x1="263.77" y1="333.2" x2="269.73" y2="333.2" stroke="#5a0a5a" stroke-width="1"/>
<line x1="266.75" y1="343.5" x2="266.75" y2="345.8" stroke="#5a0a5a" stroke-width="1"/>
<line x1="263.77" y1="345.8" x2="269.73" y2="345.8" stroke="#5a0a5a" stroke-width="1"/>
<rect x="259.8" y="334.5" width="13.899999999999977" height="8.5" fill="#d048d0" stroke="#5a0a5a" stroke-width="1"/>
<line x1="259.8" y1="337.6" x2="273.7" y2="337.6" stroke="#5a0a5a" stroke-width="1.4"/>
<path d="M227.3 315.90000000000003 L227.3 314.6 L263.4 314.6 L263.4 315.90000000000003" fill="none" stroke="#333" stroke-width="0.9"/>
<text x="246.6" y="322.7" font-size="8" fill="#111" font-weight="bold" text-anchor="middle">**</text>
<line x1="295.2" y1="304.3" x2="295.2" y2="364.0" stroke="#6a6a6a" stroke-width="1.0"/>
<line x1="295.2" y1="364.0" x2="384" y2="364.0" stroke="#6a6a6a" stroke-width="1.0"/>
<line x1="293.9" y1="305.5" x2="295.2" y2="305.5" stroke="#6a6a6a" stroke-width="0.7"/>
<text x="280.47" y="307.1" font-size="4.7" fill="#111" stroke="#111" stroke-width="0.12" font-weight="bold" textLength="13.23" lengthAdjust="spacingAndGlyphs">6.0x10⁶</text>
<line x1="293.9" y1="325.4" x2="295.2" y2="325.4" stroke="#6a6a6a" stroke-width="0.7"/>
<text x="280.47" y="327.0" font-size="4.7" fill="#111" stroke="#111" stroke-width="0.12" font-weight="bold" textLength="13.23" lengthAdjust="spacingAndGlyphs">4.0x10⁶</text>
<line x1="293.9" y1="344.8" x2="295.2" y2="344.8" stroke="#6a6a6a" stroke-width="0.7"/>
<text x="280.47" y="346.40000000000003" font-size="4.7" fill="#111" stroke="#111" stroke-width="0.12" font-weight="bold" textLength="13.23" lengthAdjust="spacingAndGlyphs">2.0x10⁶</text>
<line x1="293.9" y1="364.0" x2="295.2" y2="364.0" stroke="#6a6a6a" stroke-width="0.7"/>
<text x="291.61" y="365.6" font-size="4.7" fill="#111" stroke="#111" stroke-width="0.12" font-weight="bold" textLength="2.09" lengthAdjust="spacingAndGlyphs">0</text>
<text x="298.8" y="311.5" font-size="9.4" fill="#111" stroke="#111" stroke-width="0.35" font-weight="bold" textLength="35.2" lengthAdjust="spacingAndGlyphs">SUCCINATE</text>
<rect x="299.9" y="359.3" width="13.800000000000011" height="1.599999999999966" fill="#3a0606" stroke="#140000" stroke-width="1"/>
<line x1="329.4" y1="326.3" x2="329.4" y2="335.2" stroke="#1e4a0e" stroke-width="1"/>
<line x1="326.44" y1="326.3" x2="332.35999999999996" y2="326.3" stroke="#1e4a0e" stroke-width="1"/>
<line x1="329.4" y1="355.9" x2="329.4" y2="357.0" stroke="#1e4a0e" stroke-width="1"/>
<line x1="326.44" y1="357.0" x2="332.35999999999996" y2="357.0" stroke="#1e4a0e" stroke-width="1"/>
<rect x="322.5" y="335.7" width="13.800000000000011" height="19.69999999999999" fill="#66bb33" stroke="#1e4a0e" stroke-width="1"/>
<line x1="322.5" y1="353.2" x2="336.3" y2="353.2" stroke="#1e4a0e" stroke-width="1.4"/>
<rect x="344.7" y="359.3" width="13.800000000000011" height="1.599999999999966" fill="#1e2238" stroke="#0a0a18" stroke-width="1"/>
<line x1="374.15" y1="316.2" x2="374.15" y2="322.9" stroke="#5a0a5a" stroke-width="1"/>
<line x1="371.28999999999996" y1="316.2" x2="377.01" y2="316.2" stroke="#5a0a5a" stroke-width="1"/>
<line x1="374.15" y1="344.3" x2="374.15" y2="345.1" stroke="#5a0a5a" stroke-width="1"/>
<line x1="371.28999999999996" y1="345.1" x2="377.01" y2="345.1" stroke="#5a0a5a" stroke-width="1"/>
<rect x="367.5" y="323.4" width="13.300000000000011" height="20.400000000000034" fill="#d048d0" stroke="#5a0a5a" stroke-width="1"/>
<line x1="367.5" y1="334.1" x2="380.8" y2="334.1" stroke="#5a0a5a" stroke-width="1.4"/>
<path d="M333.2 314.90000000000003 L333.2 313.6 L367.9 313.6 L367.9 314.90000000000003" fill="none" stroke="#333" stroke-width="0.9"/>
<text x="351.2" y="321.3" font-size="8" fill="#111" font-weight="bold" text-anchor="middle">*</text>
<text x="193.0" y="377.6" font-size="12.4" fill="#1a1a1a" font-weight="bold" textLength="5.3" lengthAdjust="spacingAndGlyphs">B</text>
<text x="211.3" y="377.6" font-size="12.4" fill="#1a1a1a" font-weight="bold" textLength="11.3" lengthAdjust="spacingAndGlyphs">PS</text>
<rect x="192.0" y="380.2" width="28.0" height="1.7" fill="#5ba8e0"/>
<text x="192.10000000000002" y="396.3" font-size="13" fill="#1a1a1a" font-weight="bold" textLength="30.6" lengthAdjust="spacingAndGlyphs">SHOCK</text>
<text x="239.3" y="377.6" font-size="12.4" fill="#1a1a1a" font-weight="bold" textLength="5.3" lengthAdjust="spacingAndGlyphs">B</text>
<text x="258.3" y="377.6" font-size="12.4" fill="#1a1a1a" font-weight="bold" textLength="11.3" lengthAdjust="spacingAndGlyphs">PS</text>
<rect x="239.2" y="380.2" width="27.80000000000001" height="1.7" fill="#5ba8e0"/>
<text x="235.9" y="396.3" font-size="13" fill="#1a1a1a" font-weight="bold" textLength="30.6" lengthAdjust="spacingAndGlyphs">SHOCK</text>
<text x="233.7" y="410.4" font-size="13" fill="#1a1a1a" font-weight="bold" textLength="34.8" lengthAdjust="spacingAndGlyphs">+CB839</text>
<text x="303.8" y="377.6" font-size="12.4" fill="#1a1a1a" font-weight="bold" textLength="5.3" lengthAdjust="spacingAndGlyphs">B</text>
<text x="322.3" y="377.6" font-size="12.4" fill="#1a1a1a" font-weight="bold" textLength="11.3" lengthAdjust="spacingAndGlyphs">PS</text>
<rect x="302.3" y="380.2" width="29.19999999999999" height="1.7" fill="#5ba8e0"/>
<text x="303.40000000000003" y="396.3" font-size="13" fill="#1a1a1a" font-weight="bold" textLength="30.6" lengthAdjust="spacingAndGlyphs">SHOCK</text>
<text x="350.0" y="377.6" font-size="12.4" fill="#1a1a1a" font-weight="bold" textLength="5.3" lengthAdjust="spacingAndGlyphs">B</text>
<text x="369.0" y="377.6" font-size="12.4" fill="#1a1a1a" font-weight="bold" textLength="11.3" lengthAdjust="spacingAndGlyphs">PS</text>
<rect x="348.5" y="380.2" width="29.19999999999999" height="1.7" fill="#5ba8e0"/>
<text x="346.7" y="396.3" font-size="13" fill="#1a1a1a" font-weight="bold" textLength="30.6" lengthAdjust="spacingAndGlyphs">SHOCK</text>
<text x="344.5" y="410.4" font-size="13" fill="#1a1a1a" font-weight="bold" textLength="34.8" lengthAdjust="spacingAndGlyphs">+CB839</text>
<text x="140" y="408.8" font-size="12.6" fill="#4a70b4" font-weight="bold" font-style="italic" textLength="63.7" lengthAdjust="spacingAndGlyphs">Red Blood Cell</text>
<rect x="386.1" y="302.1" width="124.8" height="111.1" fill="#ffffff" stroke="#000" stroke-width="2.2"/>
<text x="500.3" y="316.9" font-size="12.4" fill="#000" stroke="#000" stroke-width="0.6" font-weight="bold">D</text>
<text x="409.3" y="324.7" font-size="6.7" fill="#1a1a1a" font-weight="bold" textLength="30.9" lengthAdjust="spacingAndGlyphs">ALANINE</text>
<rect x="415.5" y="340" width="16" height="35.4" fill="#66c07a" stroke="#1f3a24" stroke-width="0.8"/>
<rect x="431.5" y="332.3" width="16.6" height="43.1" fill="#9c50d8" stroke="#2a1040" stroke-width="0.8"/>
<rect x="464.0" y="369.3" width="16.3" height="6.1" fill="#66c07a" stroke="#1f3a24" stroke-width="0.8"/>
<rect x="480.3" y="360.5" width="16.2" height="14.9" fill="#9c50d8" stroke="#2a1040" stroke-width="0.8"/>
<rect x="409" y="344.2" width="41" height="3.8" fill="#ffffff"/>
<line x1="424" y1="335.5" x2="424" y2="340" stroke="#222" stroke-width="0.9"/>
<line x1="420.5" y1="335.5" x2="427.5" y2="335.5" stroke="#222" stroke-width="0.9"/>
<line x1="440" y1="330.4" x2="440" y2="332.3" stroke="#222" stroke-width="0.9"/>
<line x1="436.5" y1="330.4" x2="443.5" y2="330.4" stroke="#222" stroke-width="0.9"/>
<line x1="470.6" y1="365.8" x2="470.6" y2="369.3" stroke="#222" stroke-width="0.9"/>
<line x1="467.1" y1="365.8" x2="474.1" y2="365.8" stroke="#222" stroke-width="0.9"/>
<line x1="489.6" y1="353.8" x2="489.6" y2="360.5" stroke="#222" stroke-width="0.9"/>
<line x1="486.1" y1="353.8" x2="493.1" y2="353.8" stroke="#222" stroke-width="0.9"/>
<text x="440" y="330.2" font-size="6.5" fill="#222" font-weight="bold" text-anchor="middle">*</text>
<text x="489.6" y="353.1" font-size="6.5" fill="#222" font-weight="bold" text-anchor="middle">*</text>
<line x1="408.2" y1="316.6" x2="408.2" y2="344.6" stroke="#6a6a6a" stroke-width="0.9"/>
<line x1="408.2" y1="347.8" x2="408.2" y2="375.5" stroke="#6a6a6a" stroke-width="0.9"/>
<line x1="408.2" y1="375.5" x2="504" y2="375.5" stroke="#6a6a6a" stroke-width="0.9"/>
<line x1="406.9" y1="317" x2="408.2" y2="317" stroke="#6a6a6a" stroke-width="0.7"/>
<text x="394.17" y="318.5" font-size="4.4" fill="#111" font-weight="bold" textLength="12.43" lengthAdjust="spacingAndGlyphs">3.0x10⁸</text>
<line x1="406.9" y1="330.8" x2="408.2" y2="330.8" stroke="#6a6a6a" stroke-width="0.7"/>
<text x="394.17" y="332.3" font-size="4.4" fill="#111" font-weight="bold" textLength="12.43" lengthAdjust="spacingAndGlyphs">2.5x10⁸</text>
<line x1="406.9" y1="343.2" x2="408.2" y2="343.2" stroke="#6a6a6a" stroke-width="0.7"/>
<text x="394.17" y="344.7" font-size="4.4" fill="#111" font-weight="bold" textLength="12.43" lengthAdjust="spacingAndGlyphs">2.0x10⁸</text>
<line x1="406.9" y1="348.4" x2="408.2" y2="348.4" stroke="#6a6a6a" stroke-width="0.7"/>
<text x="394.17" y="349.9" font-size="4.4" fill="#111" font-weight="bold" textLength="12.43" lengthAdjust="spacingAndGlyphs">1.2x10⁸</text>
<line x1="406.9" y1="362" x2="408.2" y2="362" stroke="#6a6a6a" stroke-width="0.7"/>
<text x="394.17" y="363.5" font-size="4.4" fill="#111" font-weight="bold" textLength="12.43" lengthAdjust="spacingAndGlyphs">1.0x10⁸</text>
<line x1="406.9" y1="375.4" x2="408.2" y2="375.4" stroke="#6a6a6a" stroke-width="0.7"/>
<text x="394.38" y="376.9" font-size="4.4" fill="#111" font-weight="bold" textLength="12.22" lengthAdjust="spacingAndGlyphs">8.0x10⁷</text>
<rect x="453.4" y="322.4" width="5.4" height="5.4" fill="#66c07a" stroke="#1f4a2a" stroke-width="1.1"/>
<rect x="453.4" y="333.0" width="5.4" height="5.6" fill="#9c50d8" stroke="#3a1a5a" stroke-width="1.1"/>
<text x="462.6" y="326.9" font-size="4.9" fill="#111" font-weight="bold" textLength="35.6" lengthAdjust="spacingAndGlyphs">shock + CB-839</text>
<text x="462.6" y="337.4" font-size="4.9" fill="#111" font-weight="bold" textLength="33.4" lengthAdjust="spacingAndGlyphs">shock + DMSO</text>
<line x1="415.2" y1="381.2" x2="448.7" y2="381.2" stroke="#222" stroke-width="1.1"/>
<line x1="465.2" y1="381.2" x2="498.4" y2="381.2" stroke="#222" stroke-width="1.1"/>
<text x="424.5" y="390.2" font-size="5.5" fill="#222" font-weight="bold" textLength="15.39" lengthAdjust="spacingAndGlyphs">LIVER</text>
<text x="474.4" y="390.2" font-size="5.5" fill="#222" font-weight="bold" textLength="14.8" lengthAdjust="spacingAndGlyphs">LUNG</text>
<text x="439.8" y="409.8" font-size="14" fill="#4a6fb2" stroke="#4a6fb2" stroke-width="0.35" font-style="italic" textLength="30.6" lengthAdjust="spacingAndGlyphs">Organs</text>
</svg></body></html>
